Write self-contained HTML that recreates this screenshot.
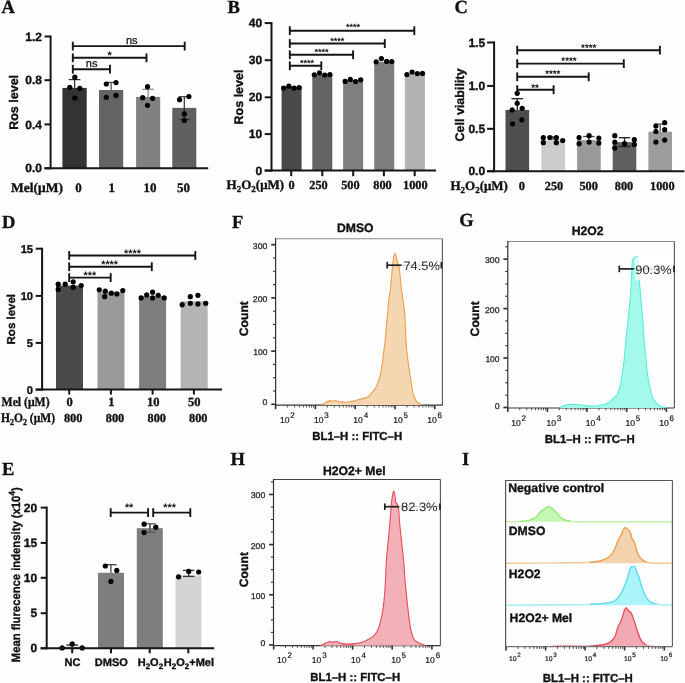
<!DOCTYPE html><html><head><meta charset="utf-8"><style>html,body{margin:0;padding:0;background:#fff;}svg{display:block;will-change:transform;text-rendering:geometricPrecision;filter:blur(0.35px);}</style></head><body>
<svg width="685" height="683" viewBox="0 0 685 683">
<rect x="0" y="0" width="685" height="683" fill="#fefefe"/>
<text x="1.60" y="12.60" font-family='"Liberation Serif", serif' font-size="18.5" font-weight="bold" text-anchor="start" fill="#111" stroke="#111" stroke-width="0.35" >A</text>
<text x="227.50" y="12.60" font-family='"Liberation Serif", serif' font-size="18.5" font-weight="bold" text-anchor="start" fill="#111" stroke="#111" stroke-width="0.35" >B</text>
<text x="454.50" y="12.60" font-family='"Liberation Serif", serif' font-size="18.5" font-weight="bold" text-anchor="start" fill="#111" stroke="#111" stroke-width="0.35" >C</text>
<text x="2.00" y="228.00" font-family='"Liberation Serif", serif' font-size="18.5" font-weight="bold" text-anchor="start" fill="#111" stroke="#111" stroke-width="0.35" >D</text>
<text x="232.00" y="228.00" font-family='"Liberation Serif", serif' font-size="18.5" font-weight="bold" text-anchor="start" fill="#111" stroke="#111" stroke-width="0.35" >F</text>
<text x="459.20" y="226.00" font-family='"Liberation Serif", serif' font-size="18.5" font-weight="bold" text-anchor="start" fill="#111" stroke="#111" stroke-width="0.35" >G</text>
<text x="2.00" y="475.00" font-family='"Liberation Serif", serif' font-size="18.5" font-weight="bold" text-anchor="start" fill="#111" stroke="#111" stroke-width="0.35" >E</text>
<text x="230.50" y="465.00" font-family='"Liberation Serif", serif' font-size="18.5" font-weight="bold" text-anchor="start" fill="#111" stroke="#111" stroke-width="0.35" >H</text>
<text x="462.00" y="465.00" font-family='"Liberation Serif", serif' font-size="18.5" font-weight="bold" text-anchor="start" fill="#111" stroke="#111" stroke-width="0.35" >I</text>
<rect x="62.40" y="87.90" width="24.30" height="80.40" fill="#333333" />
<rect x="99.00" y="90.00" width="24.20" height="78.30" fill="#626362" />
<rect x="136.10" y="96.90" width="24.10" height="71.40" fill="#808180" />
<rect x="172.30" y="107.90" width="24.00" height="60.40" fill="#5f605f" />
<line x1="74.60" y1="79.60" x2="74.60" y2="87.90" stroke="#2a2a2a" stroke-width="1.2" />
<line x1="68.80" y1="79.60" x2="80.40" y2="79.60" stroke="#2a2a2a" stroke-width="1.2" />
<line x1="111.10" y1="82.40" x2="111.10" y2="90.00" stroke="#4a4a4a" stroke-width="1.2" />
<line x1="105.30" y1="82.40" x2="116.90" y2="82.40" stroke="#4a4a4a" stroke-width="1.2" />
<line x1="148.10" y1="89.30" x2="148.10" y2="96.90" stroke="#7a7a7a" stroke-width="1.1" />
<line x1="142.30" y1="89.30" x2="153.90" y2="89.30" stroke="#7a7a7a" stroke-width="1.1" />
<line x1="184.30" y1="96.70" x2="184.30" y2="119.60" stroke="#333" stroke-width="1.2" />
<line x1="178.50" y1="96.70" x2="190.10" y2="96.70" stroke="#333" stroke-width="1.2" />
<line x1="178.50" y1="119.60" x2="190.10" y2="119.60" stroke="#333" stroke-width="1.2" />
<circle cx="74.80" cy="77.20" r="2.6" fill="#000"/>
<circle cx="69.80" cy="87.30" r="2.6" fill="#000"/>
<circle cx="79.80" cy="88.30" r="2.6" fill="#000"/>
<circle cx="74.80" cy="97.90" r="2.6" fill="#000"/>
<circle cx="106.30" cy="84.00" r="2.6" fill="#000"/>
<circle cx="116.00" cy="82.60" r="2.6" fill="#000"/>
<circle cx="106.30" cy="97.30" r="2.6" fill="#000"/>
<circle cx="116.00" cy="95.40" r="2.6" fill="#000"/>
<circle cx="147.50" cy="86.70" r="2.6" fill="#000"/>
<circle cx="142.70" cy="97.70" r="2.6" fill="#000"/>
<circle cx="152.60" cy="98.30" r="2.6" fill="#000"/>
<circle cx="147.50" cy="105.30" r="2.6" fill="#000"/>
<circle cx="179.60" cy="99.70" r="2.6" fill="#000"/>
<circle cx="188.90" cy="96.50" r="2.6" fill="#000"/>
<circle cx="184.30" cy="113.90" r="2.6" fill="#000"/>
<circle cx="184.30" cy="120.40" r="2.6" fill="#000"/>
<line x1="50.60" y1="35.50" x2="50.60" y2="169.30" stroke="#151515" stroke-width="2.0" />
<line x1="44.50" y1="168.30" x2="50.60" y2="168.30" stroke="#151515" stroke-width="2.0" />
<text x="41.90" y="172.40" font-family='"Liberation Sans", sans-serif' font-size="12" font-weight="bold" text-anchor="end" fill="#111" stroke="#111" stroke-width="0.35" >0.0</text>
<line x1="44.50" y1="124.40" x2="50.60" y2="124.40" stroke="#151515" stroke-width="2.0" />
<text x="41.90" y="128.50" font-family='"Liberation Sans", sans-serif' font-size="12" font-weight="bold" text-anchor="end" fill="#111" stroke="#111" stroke-width="0.35" >0.4</text>
<line x1="44.50" y1="80.20" x2="50.60" y2="80.20" stroke="#151515" stroke-width="2.0" />
<text x="41.90" y="84.30" font-family='"Liberation Sans", sans-serif' font-size="12" font-weight="bold" text-anchor="end" fill="#111" stroke="#111" stroke-width="0.35" >0.8</text>
<line x1="44.50" y1="36.50" x2="50.60" y2="36.50" stroke="#151515" stroke-width="2.0" />
<text x="41.90" y="40.60" font-family='"Liberation Sans", sans-serif' font-size="12" font-weight="bold" text-anchor="end" fill="#111" stroke="#111" stroke-width="0.35" >1.2</text>
<line x1="44.50" y1="168.30" x2="208.20" y2="168.30" stroke="#151515" stroke-width="2.0" />
<line x1="72.80" y1="46.10" x2="184.70" y2="46.10" stroke="#151515" stroke-width="1.9" />
<line x1="72.80" y1="41.70" x2="72.80" y2="50.50" stroke="#151515" stroke-width="1.9" />
<line x1="184.70" y1="41.70" x2="184.70" y2="50.50" stroke="#151515" stroke-width="1.9" />
<text x="131.70" y="43.70" font-family='"Liberation Sans", sans-serif' font-size="11" font-weight="normal" text-anchor="middle" fill="#111" stroke="#111" stroke-width="0.25" >ns</text>
<line x1="72.80" y1="57.80" x2="146.50" y2="57.80" stroke="#151515" stroke-width="1.9" />
<line x1="72.80" y1="53.40" x2="72.80" y2="62.20" stroke="#151515" stroke-width="1.9" />
<line x1="146.50" y1="53.40" x2="146.50" y2="62.20" stroke="#151515" stroke-width="1.9" />
<text x="109.60" y="59.40" font-family='"Liberation Sans", sans-serif' font-size="11" font-weight="bold" text-anchor="middle" fill="#111" >*</text>
<line x1="72.80" y1="69.20" x2="110.00" y2="69.20" stroke="#151515" stroke-width="1.9" />
<line x1="72.80" y1="64.80" x2="72.80" y2="73.60" stroke="#151515" stroke-width="1.9" />
<line x1="110.00" y1="64.80" x2="110.00" y2="73.60" stroke="#151515" stroke-width="1.9" />
<text x="91.60" y="66.80" font-family='"Liberation Sans", sans-serif' font-size="11" font-weight="normal" text-anchor="middle" fill="#111" stroke="#111" stroke-width="0.25" >ns</text>
<text transform="translate(18.30,102.40) rotate(-90)" font-family='"Liberation Sans", sans-serif' font-size="12.5" font-weight="bold" text-anchor="middle" fill="#111" stroke="#111" stroke-width="0.35" >Ros level</text>
<text x="11.00" y="191.90" font-family='"Liberation Serif", serif' font-size="13.5" font-weight="bold" text-anchor="start" fill="#111" stroke="#111" stroke-width="0.35" >Mel(μM)</text>
<text x="78.40" y="191.90" font-family='"Liberation Serif", serif' font-size="13" font-weight="bold" text-anchor="middle" fill="#111" stroke="#111" stroke-width="0.35" >0</text>
<text x="111.70" y="191.90" font-family='"Liberation Serif", serif' font-size="13" font-weight="bold" text-anchor="middle" fill="#111" stroke="#111" stroke-width="0.35" >1</text>
<text x="149.90" y="191.90" font-family='"Liberation Serif", serif' font-size="13" font-weight="bold" text-anchor="middle" fill="#111" stroke="#111" stroke-width="0.35" >10</text>
<text x="183.50" y="191.90" font-family='"Liberation Serif", serif' font-size="13" font-weight="bold" text-anchor="middle" fill="#111" stroke="#111" stroke-width="0.35" >50</text>
<rect x="281.60" y="86.70" width="20.00" height="83.90" fill="#494949" />
<rect x="312.30" y="74.60" width="20.00" height="96.00" fill="#636463" />
<rect x="343.10" y="80.20" width="20.00" height="90.40" fill="#7e7f7e" />
<rect x="374.20" y="61.80" width="20.00" height="108.80" fill="#7c7d7c" />
<rect x="404.90" y="74.20" width="20.00" height="96.40" fill="#b1b2b1" />
<circle cx="283.60" cy="88.00" r="2.6" fill="#000"/>
<circle cx="288.80" cy="86.20" r="2.6" fill="#000"/>
<circle cx="294.00" cy="88.20" r="2.6" fill="#000"/>
<circle cx="299.20" cy="87.60" r="2.6" fill="#000"/>
<circle cx="314.30" cy="74.80" r="2.6" fill="#000"/>
<circle cx="319.50" cy="72.80" r="2.6" fill="#000"/>
<circle cx="324.70" cy="75.00" r="2.6" fill="#000"/>
<circle cx="329.90" cy="74.60" r="2.6" fill="#000"/>
<circle cx="345.10" cy="81.40" r="2.6" fill="#000"/>
<circle cx="350.30" cy="79.40" r="2.6" fill="#000"/>
<circle cx="355.50" cy="81.60" r="2.6" fill="#000"/>
<circle cx="360.70" cy="79.80" r="2.6" fill="#000"/>
<circle cx="376.20" cy="61.80" r="2.6" fill="#000"/>
<circle cx="381.40" cy="58.60" r="2.6" fill="#000"/>
<circle cx="386.60" cy="61.40" r="2.6" fill="#000"/>
<circle cx="391.80" cy="61.60" r="2.6" fill="#000"/>
<circle cx="406.90" cy="74.60" r="2.6" fill="#000"/>
<circle cx="412.10" cy="72.00" r="2.6" fill="#000"/>
<circle cx="417.30" cy="73.60" r="2.6" fill="#000"/>
<circle cx="422.50" cy="73.40" r="2.6" fill="#000"/>
<line x1="271.50" y1="22.10" x2="271.50" y2="171.60" stroke="#151515" stroke-width="2.0" />
<line x1="264.70" y1="170.60" x2="271.50" y2="170.60" stroke="#151515" stroke-width="2.0" />
<text x="262.10" y="174.70" font-family='"Liberation Sans", sans-serif' font-size="12" font-weight="bold" text-anchor="end" fill="#111" stroke="#111" stroke-width="0.35" >0</text>
<line x1="264.70" y1="134.10" x2="271.50" y2="134.10" stroke="#151515" stroke-width="2.0" />
<text x="262.10" y="138.20" font-family='"Liberation Sans", sans-serif' font-size="12" font-weight="bold" text-anchor="end" fill="#111" stroke="#111" stroke-width="0.35" >10</text>
<line x1="264.70" y1="97.30" x2="271.50" y2="97.30" stroke="#151515" stroke-width="2.0" />
<text x="262.10" y="101.40" font-family='"Liberation Sans", sans-serif' font-size="12" font-weight="bold" text-anchor="end" fill="#111" stroke="#111" stroke-width="0.35" >20</text>
<line x1="264.70" y1="60.20" x2="271.50" y2="60.20" stroke="#151515" stroke-width="2.0" />
<text x="262.10" y="64.30" font-family='"Liberation Sans", sans-serif' font-size="12" font-weight="bold" text-anchor="end" fill="#111" stroke="#111" stroke-width="0.35" >30</text>
<line x1="264.70" y1="23.10" x2="271.50" y2="23.10" stroke="#151515" stroke-width="2.0" />
<text x="262.10" y="27.20" font-family='"Liberation Sans", sans-serif' font-size="12" font-weight="bold" text-anchor="end" fill="#111" stroke="#111" stroke-width="0.35" >40</text>
<line x1="264.70" y1="170.60" x2="436.00" y2="170.60" stroke="#151515" stroke-width="2.0" />
<line x1="291.20" y1="170.60" x2="291.20" y2="176.20" stroke="#151515" stroke-width="2.0" />
<line x1="322.30" y1="170.60" x2="322.30" y2="176.20" stroke="#151515" stroke-width="2.0" />
<line x1="353.20" y1="170.60" x2="353.20" y2="176.20" stroke="#151515" stroke-width="2.0" />
<line x1="383.90" y1="170.60" x2="383.90" y2="176.20" stroke="#151515" stroke-width="2.0" />
<line x1="414.70" y1="170.60" x2="414.70" y2="176.20" stroke="#151515" stroke-width="2.0" />
<line x1="289.80" y1="30.70" x2="414.30" y2="30.70" stroke="#151515" stroke-width="1.9" />
<line x1="289.80" y1="26.30" x2="289.80" y2="35.10" stroke="#151515" stroke-width="1.9" />
<line x1="414.30" y1="26.30" x2="414.30" y2="35.10" stroke="#151515" stroke-width="1.9" />
<text x="353.00" y="29.50" font-family='"Liberation Sans", sans-serif' font-size="9" font-weight="bold" text-anchor="middle" fill="#111" >****</text>
<line x1="289.80" y1="43.50" x2="384.80" y2="43.50" stroke="#151515" stroke-width="1.9" />
<line x1="289.80" y1="39.10" x2="289.80" y2="47.90" stroke="#151515" stroke-width="1.9" />
<line x1="384.80" y1="39.10" x2="384.80" y2="47.90" stroke="#151515" stroke-width="1.9" />
<text x="337.20" y="43.50" font-family='"Liberation Sans", sans-serif' font-size="9" font-weight="bold" text-anchor="middle" fill="#111" >****</text>
<line x1="289.80" y1="54.80" x2="353.10" y2="54.80" stroke="#151515" stroke-width="1.9" />
<line x1="289.80" y1="50.40" x2="289.80" y2="59.20" stroke="#151515" stroke-width="1.9" />
<line x1="353.10" y1="50.40" x2="353.10" y2="59.20" stroke="#151515" stroke-width="1.9" />
<text x="321.50" y="54.80" font-family='"Liberation Sans", sans-serif' font-size="9" font-weight="bold" text-anchor="middle" fill="#111" >****</text>
<line x1="289.80" y1="65.80" x2="321.30" y2="65.80" stroke="#151515" stroke-width="1.9" />
<line x1="289.80" y1="61.40" x2="289.80" y2="70.20" stroke="#151515" stroke-width="1.9" />
<line x1="321.30" y1="61.40" x2="321.30" y2="70.20" stroke="#151515" stroke-width="1.9" />
<text x="307.00" y="65.80" font-family='"Liberation Sans", sans-serif' font-size="9" font-weight="bold" text-anchor="middle" fill="#111" >****</text>
<text transform="translate(242.80,97.00) rotate(-90)" font-family='"Liberation Sans", sans-serif' font-size="12.5" font-weight="bold" text-anchor="middle" fill="#111" stroke="#111" stroke-width="0.35" >Ros level</text>
<text x="226.6" y="188.9" font-family='"Liberation Serif", serif' font-size="13" font-weight="bold" fill="#111" stroke="#111" stroke-width="0.35">H<tspan font-size="9" dy="3">2</tspan><tspan dy="-3">O</tspan><tspan font-size="9" dy="3">2</tspan><tspan dy="-3">(μM)</tspan></text>
<text x="291.60" y="188.90" font-family='"Liberation Serif", serif' font-size="12.3" font-weight="bold" text-anchor="middle" fill="#111" stroke="#111" stroke-width="0.35" >0</text>
<text x="318.50" y="188.90" font-family='"Liberation Serif", serif' font-size="12.3" font-weight="bold" text-anchor="middle" fill="#111" stroke="#111" stroke-width="0.35" >250</text>
<text x="350.40" y="188.90" font-family='"Liberation Serif", serif' font-size="12.3" font-weight="bold" text-anchor="middle" fill="#111" stroke="#111" stroke-width="0.35" >500</text>
<text x="382.50" y="188.90" font-family='"Liberation Serif", serif' font-size="12.3" font-weight="bold" text-anchor="middle" fill="#111" stroke="#111" stroke-width="0.35" >800</text>
<text x="415.30" y="188.90" font-family='"Liberation Serif", serif' font-size="12.3" font-weight="bold" text-anchor="middle" fill="#111" stroke="#111" stroke-width="0.35" >1000</text>
<rect x="505.50" y="109.90" width="23.60" height="61.30" fill="#4e4e4e" />
<rect x="541.40" y="140.10" width="23.60" height="31.10" fill="#cccccc" />
<rect x="577.10" y="140.10" width="23.60" height="31.10" fill="#999999" />
<rect x="612.70" y="142.10" width="23.60" height="29.10" fill="#5f605f" />
<rect x="648.40" y="131.70" width="23.60" height="39.50" fill="#9c9c9c" />
<line x1="517.30" y1="98.70" x2="517.30" y2="109.90" stroke="#222" stroke-width="1.3" />
<line x1="511.50" y1="98.70" x2="523.10" y2="98.70" stroke="#222" stroke-width="1.3" />
<line x1="553.20" y1="137.00" x2="553.20" y2="140.10" stroke="#444" stroke-width="1.3" />
<line x1="547.40" y1="137.00" x2="559.00" y2="137.00" stroke="#444" stroke-width="1.3" />
<line x1="588.90" y1="136.50" x2="588.90" y2="140.10" stroke="#444" stroke-width="1.3" />
<line x1="583.10" y1="136.50" x2="594.70" y2="136.50" stroke="#444" stroke-width="1.3" />
<line x1="624.50" y1="137.70" x2="624.50" y2="146.50" stroke="#222" stroke-width="1.3" />
<line x1="618.70" y1="137.70" x2="630.30" y2="137.70" stroke="#222" stroke-width="1.3" />
<line x1="618.70" y1="146.50" x2="630.30" y2="146.50" stroke="#222" stroke-width="1.3" />
<line x1="660.20" y1="124.10" x2="660.20" y2="131.70" stroke="#555" stroke-width="1.3" />
<line x1="654.40" y1="124.10" x2="666.00" y2="124.10" stroke="#555" stroke-width="1.3" />
<circle cx="517.20" cy="93.30" r="2.6" fill="#000"/>
<circle cx="517.20" cy="103.30" r="2.6" fill="#000"/>
<circle cx="512.20" cy="109.90" r="2.6" fill="#000"/>
<circle cx="522.20" cy="108.30" r="2.6" fill="#000"/>
<circle cx="521.80" cy="119.80" r="2.6" fill="#000"/>
<circle cx="512.60" cy="123.80" r="2.6" fill="#000"/>
<circle cx="543.30" cy="137.70" r="2.6" fill="#000"/>
<circle cx="549.90" cy="137.50" r="2.6" fill="#000"/>
<circle cx="556.30" cy="137.70" r="2.6" fill="#000"/>
<circle cx="562.70" cy="140.50" r="2.6" fill="#000"/>
<circle cx="543.30" cy="142.70" r="2.6" fill="#000"/>
<circle cx="556.30" cy="142.70" r="2.6" fill="#000"/>
<circle cx="579.10" cy="137.50" r="2.6" fill="#000"/>
<circle cx="589.10" cy="135.70" r="2.6" fill="#000"/>
<circle cx="598.80" cy="138.10" r="2.6" fill="#000"/>
<circle cx="579.10" cy="143.70" r="2.6" fill="#000"/>
<circle cx="589.10" cy="142.10" r="2.6" fill="#000"/>
<circle cx="598.80" cy="143.10" r="2.6" fill="#000"/>
<circle cx="614.80" cy="135.70" r="2.6" fill="#000"/>
<circle cx="614.80" cy="142.10" r="2.6" fill="#000"/>
<circle cx="614.80" cy="148.10" r="2.6" fill="#000"/>
<circle cx="624.60" cy="143.70" r="2.6" fill="#000"/>
<circle cx="634.30" cy="139.70" r="2.6" fill="#000"/>
<circle cx="634.30" cy="144.50" r="2.6" fill="#000"/>
<circle cx="655.90" cy="126.10" r="2.6" fill="#000"/>
<circle cx="664.70" cy="122.70" r="2.6" fill="#000"/>
<circle cx="655.90" cy="131.50" r="2.6" fill="#000"/>
<circle cx="664.70" cy="129.70" r="2.6" fill="#000"/>
<circle cx="655.90" cy="142.10" r="2.6" fill="#000"/>
<circle cx="664.70" cy="140.10" r="2.6" fill="#000"/>
<line x1="494.10" y1="41.50" x2="494.10" y2="172.20" stroke="#151515" stroke-width="2.0" />
<line x1="487.10" y1="171.20" x2="494.10" y2="171.20" stroke="#151515" stroke-width="2.0" />
<text x="485.10" y="175.30" font-family='"Liberation Sans", sans-serif' font-size="12" font-weight="bold" text-anchor="end" fill="#111" stroke="#111" stroke-width="0.35" >0.0</text>
<line x1="487.10" y1="128.80" x2="494.10" y2="128.80" stroke="#151515" stroke-width="2.0" />
<text x="485.10" y="132.90" font-family='"Liberation Sans", sans-serif' font-size="12" font-weight="bold" text-anchor="end" fill="#111" stroke="#111" stroke-width="0.35" >0.5</text>
<line x1="487.10" y1="85.90" x2="494.10" y2="85.90" stroke="#151515" stroke-width="2.0" />
<text x="485.10" y="90.00" font-family='"Liberation Sans", sans-serif' font-size="12" font-weight="bold" text-anchor="end" fill="#111" stroke="#111" stroke-width="0.35" >1.0</text>
<line x1="487.10" y1="42.50" x2="494.10" y2="42.50" stroke="#151515" stroke-width="2.0" />
<text x="485.10" y="46.60" font-family='"Liberation Sans", sans-serif' font-size="12" font-weight="bold" text-anchor="end" fill="#111" stroke="#111" stroke-width="0.35" >1.5</text>
<line x1="487.10" y1="171.20" x2="684.40" y2="171.20" stroke="#151515" stroke-width="2.0" />
<line x1="517.20" y1="50.20" x2="659.90" y2="50.20" stroke="#151515" stroke-width="1.9" />
<line x1="517.20" y1="45.80" x2="517.20" y2="54.60" stroke="#151515" stroke-width="1.9" />
<line x1="659.90" y1="45.80" x2="659.90" y2="54.60" stroke="#151515" stroke-width="1.9" />
<text x="588.70" y="50.60" font-family='"Liberation Sans", sans-serif' font-size="9.8" font-weight="bold" text-anchor="middle" fill="#111" >****</text>
<line x1="517.20" y1="63.60" x2="623.80" y2="63.60" stroke="#151515" stroke-width="1.9" />
<line x1="517.20" y1="59.20" x2="517.20" y2="68.00" stroke="#151515" stroke-width="1.9" />
<line x1="623.80" y1="59.20" x2="623.80" y2="68.00" stroke="#151515" stroke-width="1.9" />
<text x="569.00" y="63.60" font-family='"Liberation Sans", sans-serif' font-size="9.8" font-weight="bold" text-anchor="middle" fill="#111" >****</text>
<line x1="517.20" y1="76.80" x2="588.70" y2="76.80" stroke="#151515" stroke-width="1.9" />
<line x1="517.20" y1="72.40" x2="517.20" y2="81.20" stroke="#151515" stroke-width="1.9" />
<line x1="588.70" y1="72.40" x2="588.70" y2="81.20" stroke="#151515" stroke-width="1.9" />
<text x="552.80" y="76.80" font-family='"Liberation Sans", sans-serif' font-size="9.8" font-weight="bold" text-anchor="middle" fill="#111" >****</text>
<line x1="517.20" y1="89.70" x2="553.60" y2="89.70" stroke="#151515" stroke-width="1.9" />
<line x1="517.20" y1="85.30" x2="517.20" y2="94.10" stroke="#151515" stroke-width="1.9" />
<line x1="553.60" y1="85.30" x2="553.60" y2="94.10" stroke="#151515" stroke-width="1.9" />
<text x="535.00" y="90.90" font-family='"Liberation Sans", sans-serif' font-size="9.8" font-weight="bold" text-anchor="middle" fill="#111" >**</text>
<text transform="translate(463.90,105.00) rotate(-90)" font-family='"Liberation Sans", sans-serif' font-size="12.5" font-weight="bold" text-anchor="middle" fill="#111" stroke="#111" stroke-width="0.35" >Cell viability</text>
<text x="450.4" y="190.4" font-family='"Liberation Serif", serif' font-size="13" font-weight="bold" fill="#111" stroke="#111" stroke-width="0.35">H<tspan font-size="9" dy="3">2</tspan><tspan dy="-3">O</tspan><tspan font-size="9" dy="3">2</tspan><tspan dy="-3">(μM)</tspan></text>
<text x="521.80" y="190.40" font-family='"Liberation Serif", serif' font-size="12.3" font-weight="bold" text-anchor="middle" fill="#111" stroke="#111" stroke-width="0.35" >0</text>
<text x="554.00" y="190.40" font-family='"Liberation Serif", serif' font-size="12.3" font-weight="bold" text-anchor="middle" fill="#111" stroke="#111" stroke-width="0.35" >250</text>
<text x="588.70" y="190.40" font-family='"Liberation Serif", serif' font-size="12.3" font-weight="bold" text-anchor="middle" fill="#111" stroke="#111" stroke-width="0.35" >500</text>
<text x="624.00" y="190.40" font-family='"Liberation Serif", serif' font-size="12.3" font-weight="bold" text-anchor="middle" fill="#111" stroke="#111" stroke-width="0.35" >800</text>
<text x="662.30" y="190.40" font-family='"Liberation Serif", serif' font-size="12.3" font-weight="bold" text-anchor="middle" fill="#111" stroke="#111" stroke-width="0.35" >1000</text>
<rect x="56.00" y="285.60" width="27.00" height="104.00" fill="#4a4a4a" />
<rect x="97.50" y="292.20" width="27.00" height="97.40" fill="#9a9a9a" />
<rect x="139.10" y="296.30" width="27.00" height="93.30" fill="#7d7e7d" />
<rect x="180.70" y="301.30" width="27.00" height="88.30" fill="#b3b4b3" />
<circle cx="58.20" cy="284.20" r="2.6" fill="#000"/>
<circle cx="65.20" cy="284.20" r="2.6" fill="#000"/>
<circle cx="73.20" cy="281.80" r="2.6" fill="#000"/>
<circle cx="81.20" cy="285.60" r="2.6" fill="#000"/>
<circle cx="58.20" cy="289.60" r="2.6" fill="#000"/>
<circle cx="73.20" cy="287.20" r="2.6" fill="#000"/>
<circle cx="99.30" cy="289.80" r="2.6" fill="#000"/>
<circle cx="105.30" cy="291.20" r="2.6" fill="#000"/>
<circle cx="111.30" cy="293.20" r="2.6" fill="#000"/>
<circle cx="116.90" cy="293.90" r="2.6" fill="#000"/>
<circle cx="122.80" cy="290.60" r="2.6" fill="#000"/>
<circle cx="104.70" cy="296.70" r="2.6" fill="#000"/>
<circle cx="141.10" cy="297.90" r="2.6" fill="#000"/>
<circle cx="146.70" cy="294.90" r="2.6" fill="#000"/>
<circle cx="152.60" cy="292.20" r="2.6" fill="#000"/>
<circle cx="158.20" cy="295.30" r="2.6" fill="#000"/>
<circle cx="164.20" cy="297.90" r="2.6" fill="#000"/>
<circle cx="152.60" cy="297.90" r="2.6" fill="#000"/>
<circle cx="182.20" cy="304.70" r="2.6" fill="#000"/>
<circle cx="190.30" cy="296.70" r="2.6" fill="#000"/>
<circle cx="197.90" cy="295.30" r="2.6" fill="#000"/>
<circle cx="190.30" cy="303.30" r="2.6" fill="#000"/>
<circle cx="197.90" cy="303.90" r="2.6" fill="#000"/>
<circle cx="205.70" cy="303.30" r="2.6" fill="#000"/>
<line x1="42.10" y1="247.70" x2="42.10" y2="390.60" stroke="#151515" stroke-width="2.0" />
<line x1="35.70" y1="389.60" x2="42.10" y2="389.60" stroke="#151515" stroke-width="2.0" />
<text x="33.10" y="393.70" font-family='"Liberation Sans", sans-serif' font-size="11.2" font-weight="bold" text-anchor="end" fill="#111" stroke="#111" stroke-width="0.35" >0</text>
<line x1="35.70" y1="342.90" x2="42.10" y2="342.90" stroke="#151515" stroke-width="2.0" />
<text x="33.10" y="347.00" font-family='"Liberation Sans", sans-serif' font-size="11.2" font-weight="bold" text-anchor="end" fill="#111" stroke="#111" stroke-width="0.35" >5</text>
<line x1="35.70" y1="295.90" x2="42.10" y2="295.90" stroke="#151515" stroke-width="2.0" />
<text x="33.10" y="300.00" font-family='"Liberation Sans", sans-serif' font-size="11.2" font-weight="bold" text-anchor="end" fill="#111" stroke="#111" stroke-width="0.35" >10</text>
<line x1="35.70" y1="248.70" x2="42.10" y2="248.70" stroke="#151515" stroke-width="2.0" />
<text x="33.10" y="252.80" font-family='"Liberation Sans", sans-serif' font-size="11.2" font-weight="bold" text-anchor="end" fill="#111" stroke="#111" stroke-width="0.35" >15</text>
<line x1="35.70" y1="389.60" x2="222.00" y2="389.60" stroke="#151515" stroke-width="2.0" />
<line x1="69.20" y1="389.60" x2="69.20" y2="394.60" stroke="#151515" stroke-width="2.0" />
<line x1="110.90" y1="389.60" x2="110.90" y2="394.60" stroke="#151515" stroke-width="2.0" />
<line x1="152.60" y1="389.60" x2="152.60" y2="394.60" stroke="#151515" stroke-width="2.0" />
<line x1="193.90" y1="389.60" x2="193.90" y2="394.60" stroke="#151515" stroke-width="2.0" />
<line x1="69.20" y1="255.50" x2="195.30" y2="255.50" stroke="#151515" stroke-width="1.9" />
<line x1="69.20" y1="251.10" x2="69.20" y2="259.90" stroke="#151515" stroke-width="1.9" />
<line x1="195.30" y1="251.10" x2="195.30" y2="259.90" stroke="#151515" stroke-width="1.9" />
<text x="132.50" y="256.50" font-family='"Liberation Sans", sans-serif' font-size="10.8" font-weight="bold" text-anchor="middle" fill="#111" >****</text>
<line x1="69.20" y1="266.70" x2="151.80" y2="266.70" stroke="#151515" stroke-width="1.9" />
<line x1="69.20" y1="262.30" x2="69.20" y2="271.10" stroke="#151515" stroke-width="1.9" />
<line x1="151.80" y1="262.30" x2="151.80" y2="271.10" stroke="#151515" stroke-width="1.9" />
<text x="109.60" y="267.70" font-family='"Liberation Sans", sans-serif' font-size="10.8" font-weight="bold" text-anchor="middle" fill="#111" >****</text>
<line x1="69.20" y1="277.60" x2="110.70" y2="277.60" stroke="#151515" stroke-width="1.9" />
<line x1="69.20" y1="273.20" x2="69.20" y2="282.00" stroke="#151515" stroke-width="1.9" />
<line x1="110.70" y1="273.20" x2="110.70" y2="282.00" stroke="#151515" stroke-width="1.9" />
<text x="89.90" y="278.60" font-family='"Liberation Sans", sans-serif' font-size="10.8" font-weight="bold" text-anchor="middle" fill="#111" >***</text>
<text transform="translate(14.80,319.20) rotate(-90)" font-family='"Liberation Sans", sans-serif' font-size="11.5" font-weight="bold" text-anchor="middle" fill="#111" stroke="#111" stroke-width="0.35" >Ros level</text>
<text x="1.60" y="406.30" font-family='"Liberation Serif", serif' font-size="13" font-weight="bold" text-anchor="start" fill="#111" stroke="#111" stroke-width="0.35" textLength="48" lengthAdjust="spacingAndGlyphs">Mel (μM)</text>
<text x="1.0" y="421.9" font-family='"Liberation Serif", serif' font-size="13" font-weight="bold" fill="#111" stroke="#111" stroke-width="0.35" textLength="54" lengthAdjust="spacingAndGlyphs">H<tspan font-size="9" dy="3">2</tspan><tspan dy="-3">O</tspan><tspan font-size="9" dy="3">2</tspan><tspan dy="-3"> (μM)</tspan></text>
<text x="69.60" y="406.30" font-family='"Liberation Serif", serif' font-size="12.5" font-weight="bold" text-anchor="middle" fill="#111" stroke="#111" stroke-width="0.35" >0</text>
<text x="111.30" y="406.30" font-family='"Liberation Serif", serif' font-size="12.5" font-weight="bold" text-anchor="middle" fill="#111" stroke="#111" stroke-width="0.35" >1</text>
<text x="153.20" y="406.30" font-family='"Liberation Serif", serif' font-size="12.5" font-weight="bold" text-anchor="middle" fill="#111" stroke="#111" stroke-width="0.35" >10</text>
<text x="194.30" y="406.30" font-family='"Liberation Serif", serif' font-size="12.5" font-weight="bold" text-anchor="middle" fill="#111" stroke="#111" stroke-width="0.35" >50</text>
<text x="73.20" y="421.90" font-family='"Liberation Serif", serif' font-size="12.3" font-weight="bold" text-anchor="middle" fill="#111" stroke="#111" stroke-width="0.35" >800</text>
<text x="115.00" y="421.90" font-family='"Liberation Serif", serif' font-size="12.3" font-weight="bold" text-anchor="middle" fill="#111" stroke="#111" stroke-width="0.35" >800</text>
<text x="156.80" y="421.90" font-family='"Liberation Serif", serif' font-size="12.3" font-weight="bold" text-anchor="middle" fill="#111" stroke="#111" stroke-width="0.35" >800</text>
<text x="198.30" y="421.90" font-family='"Liberation Serif", serif' font-size="12.3" font-weight="bold" text-anchor="middle" fill="#111" stroke="#111" stroke-width="0.35" >800</text>
<rect x="59.20" y="646.80" width="26.00" height="1.50" fill="#7d7e7d" />
<rect x="98.00" y="572.80" width="26.00" height="75.50" fill="#7d7e7d" />
<rect x="136.80" y="528.20" width="26.00" height="120.10" fill="#7d7e7d" />
<rect x="175.50" y="575.40" width="26.00" height="72.90" fill="#d4d4d4" />
<line x1="72.20" y1="645.00" x2="72.20" y2="647.00" stroke="#222" stroke-width="1.3" />
<line x1="66.40" y1="645.00" x2="78.00" y2="645.00" stroke="#222" stroke-width="1.3" />
<line x1="110.90" y1="564.70" x2="110.90" y2="572.80" stroke="#444" stroke-width="1.3" />
<line x1="105.10" y1="564.70" x2="116.70" y2="564.70" stroke="#444" stroke-width="1.3" />
<line x1="149.90" y1="523.80" x2="149.90" y2="528.20" stroke="#555" stroke-width="1.3" />
<line x1="144.10" y1="523.80" x2="155.70" y2="523.80" stroke="#555" stroke-width="1.3" />
<line x1="149.90" y1="523.80" x2="149.90" y2="532.20" stroke="#555" stroke-width="1.2" />
<line x1="144.10" y1="532.20" x2="155.70" y2="532.20" stroke="#555" stroke-width="1.2" />
<line x1="188.70" y1="570.40" x2="188.70" y2="576.40" stroke="#333" stroke-width="1.3" />
<line x1="182.90" y1="570.40" x2="194.50" y2="570.40" stroke="#333" stroke-width="1.3" />
<line x1="182.90" y1="576.40" x2="194.50" y2="576.40" stroke="#333" stroke-width="1.3" />
<circle cx="62.20" cy="647.90" r="2.6" fill="#000"/>
<circle cx="72.20" cy="643.90" r="2.6" fill="#000"/>
<circle cx="82.20" cy="647.90" r="2.6" fill="#000"/>
<circle cx="105.30" cy="566.00" r="2.6" fill="#000"/>
<circle cx="116.80" cy="570.40" r="2.6" fill="#000"/>
<circle cx="110.90" cy="581.40" r="2.6" fill="#000"/>
<circle cx="144.10" cy="524.20" r="2.6" fill="#000"/>
<circle cx="155.80" cy="527.20" r="2.6" fill="#000"/>
<circle cx="144.10" cy="532.60" r="2.6" fill="#000"/>
<circle cx="178.60" cy="576.80" r="2.6" fill="#000"/>
<circle cx="188.70" cy="571.40" r="2.6" fill="#000"/>
<circle cx="198.70" cy="572.00" r="2.6" fill="#000"/>
<line x1="46.70" y1="506.60" x2="46.70" y2="649.30" stroke="#151515" stroke-width="2.0" />
<line x1="40.70" y1="648.30" x2="46.70" y2="648.30" stroke="#151515" stroke-width="2.0" />
<text x="37.10" y="652.40" font-family='"Liberation Sans", sans-serif' font-size="12" font-weight="bold" text-anchor="end" fill="#111" stroke="#111" stroke-width="0.35" >0</text>
<line x1="40.70" y1="613.20" x2="46.70" y2="613.20" stroke="#151515" stroke-width="2.0" />
<text x="37.10" y="617.30" font-family='"Liberation Sans", sans-serif' font-size="12" font-weight="bold" text-anchor="end" fill="#111" stroke="#111" stroke-width="0.35" >5</text>
<line x1="40.70" y1="577.80" x2="46.70" y2="577.80" stroke="#151515" stroke-width="2.0" />
<text x="37.10" y="581.90" font-family='"Liberation Sans", sans-serif' font-size="12" font-weight="bold" text-anchor="end" fill="#111" stroke="#111" stroke-width="0.35" >10</text>
<line x1="40.70" y1="542.90" x2="46.70" y2="542.90" stroke="#151515" stroke-width="2.0" />
<text x="37.10" y="547.00" font-family='"Liberation Sans", sans-serif' font-size="12" font-weight="bold" text-anchor="end" fill="#111" stroke="#111" stroke-width="0.35" >15</text>
<line x1="40.70" y1="507.60" x2="46.70" y2="507.60" stroke="#151515" stroke-width="2.0" />
<text x="37.10" y="511.70" font-family='"Liberation Sans", sans-serif' font-size="12" font-weight="bold" text-anchor="end" fill="#111" stroke="#111" stroke-width="0.35" >20</text>
<line x1="40.70" y1="648.30" x2="214.30" y2="648.30" stroke="#151515" stroke-width="2.0" />
<line x1="72.20" y1="648.30" x2="72.20" y2="653.30" stroke="#151515" stroke-width="2.0" />
<line x1="111.00" y1="648.30" x2="111.00" y2="653.30" stroke="#151515" stroke-width="2.0" />
<line x1="149.70" y1="648.30" x2="149.70" y2="653.30" stroke="#151515" stroke-width="2.0" />
<line x1="188.30" y1="648.30" x2="188.30" y2="653.30" stroke="#151515" stroke-width="2.0" />
<line x1="110.70" y1="512.60" x2="148.10" y2="512.60" stroke="#151515" stroke-width="1.9" />
<line x1="110.70" y1="508.20" x2="110.70" y2="517.00" stroke="#151515" stroke-width="1.9" />
<line x1="148.10" y1="508.20" x2="148.10" y2="517.00" stroke="#151515" stroke-width="1.9" />
<text x="129.10" y="511.20" font-family='"Liberation Sans", sans-serif' font-size="10.8" font-weight="bold" text-anchor="middle" fill="#111" >**</text>
<line x1="153.20" y1="512.60" x2="190.30" y2="512.60" stroke="#151515" stroke-width="1.9" />
<line x1="153.20" y1="508.20" x2="153.20" y2="517.00" stroke="#151515" stroke-width="1.9" />
<line x1="190.30" y1="508.20" x2="190.30" y2="517.00" stroke="#151515" stroke-width="1.9" />
<text x="169.60" y="511.20" font-family='"Liberation Sans", sans-serif' font-size="10.8" font-weight="bold" text-anchor="middle" fill="#111" >***</text>
<text transform="translate(19.8,574.7) rotate(-90)" font-family='"Liberation Sans", sans-serif' font-size="12" font-weight="bold" text-anchor="middle" fill="#111" stroke="#111" stroke-width="0.35" textLength="175" lengthAdjust="spacingAndGlyphs">Mean flurecence indensity (x10<tspan font-size="9" dy="-4.5">4</tspan><tspan dy="4.5">)</tspan></text>
<text x="72.40" y="666.40" font-family='"Liberation Sans", sans-serif' font-size="11" font-weight="bold" text-anchor="middle" fill="#111" stroke="#111" stroke-width="0.35" >NC</text>
<text x="111.30" y="666.40" font-family='"Liberation Sans", sans-serif' font-size="11" font-weight="bold" text-anchor="middle" fill="#111" stroke="#111" stroke-width="0.35" >DMSO</text>
<text x="137.7" y="666.4" font-family='"Liberation Sans", sans-serif' font-size="11" font-weight="bold" fill="#111" stroke="#111" stroke-width="0.35">H<tspan font-size="8" dy="2.5">2</tspan><tspan dy="-2.5">O</tspan><tspan font-size="8" dy="2.5">2</tspan></text>
<text x="163.8" y="666.4" font-family='"Liberation Sans", sans-serif' font-size="11" font-weight="bold" fill="#111" stroke="#111" stroke-width="0.35">H<tspan font-size="8" dy="2.5">2</tspan><tspan dy="-2.5">O</tspan><tspan font-size="8" dy="2.5">2</tspan><tspan dy="-2.5">+Mel</tspan></text>
<line x1="275.60" y1="238.80" x2="442.40" y2="238.80" stroke="#8a8a8a" stroke-width="1.1" />
<line x1="442.40" y1="238.80" x2="442.40" y2="405.20" stroke="#555" stroke-width="1.1" />
<line x1="275.60" y1="238.30" x2="275.60" y2="405.20" stroke="#333" stroke-width="1.2" />
<line x1="275.60" y1="405.20" x2="442.40" y2="405.20" stroke="#333" stroke-width="1.2" />
<path d="M321.50,405.00 C322.17,404.62 324.10,403.43 325.50,402.70 C326.90,401.97 328.73,400.80 329.90,400.60 C331.07,400.40 331.53,401.50 332.50,401.50 C333.47,401.50 334.53,400.55 335.70,400.60 C336.87,400.65 337.83,401.52 339.50,401.80 C341.17,402.08 343.95,402.30 345.70,402.30 C347.45,402.30 348.55,402.03 350.00,401.80 C351.45,401.57 352.65,401.33 354.40,400.90 C356.15,400.47 358.30,399.83 360.50,399.20 C362.70,398.57 365.83,398.03 367.60,397.10 C369.37,396.17 369.80,395.07 371.10,393.60 C372.40,392.13 374.23,390.20 375.40,388.30 C376.57,386.40 377.13,385.12 378.10,382.20 C379.07,379.28 380.33,375.33 381.20,370.80 C382.07,366.27 382.65,359.97 383.30,355.00 C383.95,350.03 384.50,346.83 385.10,341.00 C385.70,335.17 386.43,325.12 386.90,320.00 C387.37,314.88 387.60,313.48 387.90,310.30 C388.20,307.12 388.32,304.22 388.70,300.90 C389.08,297.58 389.75,294.10 390.20,290.40 C390.65,286.70 391.00,282.90 391.40,278.70 C391.80,274.50 392.23,268.72 392.60,265.20 C392.97,261.68 393.23,259.55 393.60,257.60 C393.97,255.65 394.45,253.90 394.80,253.50 C395.15,253.10 395.25,253.83 395.70,255.20 C396.15,256.57 396.92,259.55 397.50,261.70 C398.08,263.85 398.72,265.27 399.20,268.10 C399.68,270.93 400.00,274.98 400.40,278.70 C400.80,282.42 401.15,286.70 401.60,290.40 C402.05,294.10 402.65,297.58 403.10,300.90 C403.55,304.22 403.97,307.12 404.30,310.30 C404.63,313.48 404.80,314.58 405.10,320.00 C405.40,325.42 405.63,336.08 406.10,342.80 C406.57,349.52 407.17,354.47 407.90,360.30 C408.63,366.13 409.63,372.25 410.50,377.80 C411.37,383.35 412.08,389.65 413.10,393.60 C414.12,397.55 415.00,399.60 416.60,401.50 C418.20,403.40 421.68,404.42 422.70,405.00 Z" fill="#f4d6b1" stroke="none"/>
<path d="M321.50,405.00 C322.17,404.62 324.10,403.43 325.50,402.70 C326.90,401.97 328.73,400.80 329.90,400.60 C331.07,400.40 331.53,401.50 332.50,401.50 C333.47,401.50 334.53,400.55 335.70,400.60 C336.87,400.65 337.83,401.52 339.50,401.80 C341.17,402.08 343.95,402.30 345.70,402.30 C347.45,402.30 348.55,402.03 350.00,401.80 C351.45,401.57 352.65,401.33 354.40,400.90 C356.15,400.47 358.30,399.83 360.50,399.20 C362.70,398.57 365.83,398.03 367.60,397.10 C369.37,396.17 369.80,395.07 371.10,393.60 C372.40,392.13 374.23,390.20 375.40,388.30 C376.57,386.40 377.13,385.12 378.10,382.20 C379.07,379.28 380.33,375.33 381.20,370.80 C382.07,366.27 382.65,359.97 383.30,355.00 C383.95,350.03 384.50,346.83 385.10,341.00 C385.70,335.17 386.43,325.12 386.90,320.00 C387.37,314.88 387.60,313.48 387.90,310.30 C388.20,307.12 388.32,304.22 388.70,300.90 C389.08,297.58 389.75,294.10 390.20,290.40 C390.65,286.70 391.00,282.90 391.40,278.70 C391.80,274.50 392.23,268.72 392.60,265.20 C392.97,261.68 393.23,259.55 393.60,257.60 C393.97,255.65 394.45,253.90 394.80,253.50 C395.15,253.10 395.25,253.83 395.70,255.20 C396.15,256.57 396.92,259.55 397.50,261.70 C398.08,263.85 398.72,265.27 399.20,268.10 C399.68,270.93 400.00,274.98 400.40,278.70 C400.80,282.42 401.15,286.70 401.60,290.40 C402.05,294.10 402.65,297.58 403.10,300.90 C403.55,304.22 403.97,307.12 404.30,310.30 C404.63,313.48 404.80,314.58 405.10,320.00 C405.40,325.42 405.63,336.08 406.10,342.80 C406.57,349.52 407.17,354.47 407.90,360.30 C408.63,366.13 409.63,372.25 410.50,377.80 C411.37,383.35 412.08,389.65 413.10,393.60 C414.12,397.55 415.00,399.60 416.60,401.50 C418.20,403.40 421.68,404.42 422.70,405.00" fill="none" stroke="#ee9d4c" stroke-width="1.1" stroke-linejoin="round"/>
<line x1="271.20" y1="404.30" x2="275.60" y2="404.30" stroke="#333" stroke-width="1.7" />
<text x="267.40" y="405.30" font-family='"Liberation Sans", sans-serif' font-size="8.4" fill="#2a2a2a" text-anchor="end" textLength="4.9" lengthAdjust="spacingAndGlyphs" stroke="#2a2a2a" stroke-width="0.3">0</text>
<line x1="273.00" y1="391.00" x2="275.60" y2="391.00" stroke="#333" stroke-width="1.1" />
<line x1="273.00" y1="377.70" x2="275.60" y2="377.70" stroke="#333" stroke-width="1.1" />
<line x1="273.00" y1="364.40" x2="275.60" y2="364.40" stroke="#333" stroke-width="1.1" />
<line x1="271.20" y1="351.10" x2="275.60" y2="351.10" stroke="#333" stroke-width="1.7" />
<text x="267.40" y="355.00" font-family='"Liberation Sans", sans-serif' font-size="8.4" fill="#2a2a2a" text-anchor="end" textLength="14.2" lengthAdjust="spacingAndGlyphs" stroke="#2a2a2a" stroke-width="0.3">100</text>
<line x1="273.00" y1="337.80" x2="275.60" y2="337.80" stroke="#333" stroke-width="1.1" />
<line x1="273.00" y1="324.50" x2="275.60" y2="324.50" stroke="#333" stroke-width="1.1" />
<line x1="273.00" y1="311.20" x2="275.60" y2="311.20" stroke="#333" stroke-width="1.1" />
<line x1="271.20" y1="297.90" x2="275.60" y2="297.90" stroke="#333" stroke-width="1.7" />
<text x="267.40" y="301.80" font-family='"Liberation Sans", sans-serif' font-size="8.4" fill="#2a2a2a" text-anchor="end" textLength="14.6" lengthAdjust="spacingAndGlyphs" stroke="#2a2a2a" stroke-width="0.3">200</text>
<line x1="273.00" y1="284.60" x2="275.60" y2="284.60" stroke="#333" stroke-width="1.1" />
<line x1="273.00" y1="271.30" x2="275.60" y2="271.30" stroke="#333" stroke-width="1.1" />
<line x1="273.00" y1="258.00" x2="275.60" y2="258.00" stroke="#333" stroke-width="1.1" />
<line x1="271.20" y1="244.70" x2="275.60" y2="244.70" stroke="#333" stroke-width="1.7" />
<text x="267.40" y="248.60" font-family='"Liberation Sans", sans-serif' font-size="8.4" fill="#2a2a2a" text-anchor="end" textLength="14.6" lengthAdjust="spacingAndGlyphs" stroke="#2a2a2a" stroke-width="0.3">300</text>
<line x1="275.60" y1="405.20" x2="275.60" y2="409.20" stroke="#333" stroke-width="1.6" />
<line x1="287.58" y1="405.20" x2="287.58" y2="407.50" stroke="#444" stroke-width="0.9" />
<line x1="294.59" y1="405.20" x2="294.59" y2="407.50" stroke="#444" stroke-width="0.9" />
<line x1="299.56" y1="405.20" x2="299.56" y2="407.50" stroke="#444" stroke-width="0.9" />
<line x1="303.42" y1="405.20" x2="303.42" y2="407.50" stroke="#444" stroke-width="0.9" />
<line x1="306.57" y1="405.20" x2="306.57" y2="407.50" stroke="#444" stroke-width="0.9" />
<line x1="309.23" y1="405.20" x2="309.23" y2="407.50" stroke="#444" stroke-width="0.9" />
<line x1="311.54" y1="405.20" x2="311.54" y2="407.50" stroke="#444" stroke-width="0.9" />
<line x1="313.58" y1="405.20" x2="313.58" y2="407.50" stroke="#444" stroke-width="0.9" />
<line x1="315.40" y1="405.20" x2="315.40" y2="409.20" stroke="#333" stroke-width="1.6" />
<line x1="327.38" y1="405.20" x2="327.38" y2="407.50" stroke="#444" stroke-width="0.9" />
<line x1="334.39" y1="405.20" x2="334.39" y2="407.50" stroke="#444" stroke-width="0.9" />
<line x1="339.36" y1="405.20" x2="339.36" y2="407.50" stroke="#444" stroke-width="0.9" />
<line x1="343.22" y1="405.20" x2="343.22" y2="407.50" stroke="#444" stroke-width="0.9" />
<line x1="346.37" y1="405.20" x2="346.37" y2="407.50" stroke="#444" stroke-width="0.9" />
<line x1="349.03" y1="405.20" x2="349.03" y2="407.50" stroke="#444" stroke-width="0.9" />
<line x1="351.34" y1="405.20" x2="351.34" y2="407.50" stroke="#444" stroke-width="0.9" />
<line x1="353.38" y1="405.20" x2="353.38" y2="407.50" stroke="#444" stroke-width="0.9" />
<line x1="355.20" y1="405.20" x2="355.20" y2="409.20" stroke="#333" stroke-width="1.6" />
<line x1="367.18" y1="405.20" x2="367.18" y2="407.50" stroke="#444" stroke-width="0.9" />
<line x1="374.19" y1="405.20" x2="374.19" y2="407.50" stroke="#444" stroke-width="0.9" />
<line x1="379.16" y1="405.20" x2="379.16" y2="407.50" stroke="#444" stroke-width="0.9" />
<line x1="383.02" y1="405.20" x2="383.02" y2="407.50" stroke="#444" stroke-width="0.9" />
<line x1="386.17" y1="405.20" x2="386.17" y2="407.50" stroke="#444" stroke-width="0.9" />
<line x1="388.83" y1="405.20" x2="388.83" y2="407.50" stroke="#444" stroke-width="0.9" />
<line x1="391.14" y1="405.20" x2="391.14" y2="407.50" stroke="#444" stroke-width="0.9" />
<line x1="393.18" y1="405.20" x2="393.18" y2="407.50" stroke="#444" stroke-width="0.9" />
<line x1="395.00" y1="405.20" x2="395.00" y2="409.20" stroke="#333" stroke-width="1.6" />
<line x1="406.98" y1="405.20" x2="406.98" y2="407.50" stroke="#444" stroke-width="0.9" />
<line x1="413.99" y1="405.20" x2="413.99" y2="407.50" stroke="#444" stroke-width="0.9" />
<line x1="418.96" y1="405.20" x2="418.96" y2="407.50" stroke="#444" stroke-width="0.9" />
<line x1="422.82" y1="405.20" x2="422.82" y2="407.50" stroke="#444" stroke-width="0.9" />
<line x1="425.97" y1="405.20" x2="425.97" y2="407.50" stroke="#444" stroke-width="0.9" />
<line x1="428.63" y1="405.20" x2="428.63" y2="407.50" stroke="#444" stroke-width="0.9" />
<line x1="430.94" y1="405.20" x2="430.94" y2="407.50" stroke="#444" stroke-width="0.9" />
<line x1="432.98" y1="405.20" x2="432.98" y2="407.50" stroke="#444" stroke-width="0.9" />
<line x1="434.80" y1="405.20" x2="434.80" y2="409.20" stroke="#333" stroke-width="1.6" />
<text x="279.90" y="423.00" font-family='"Liberation Sans", sans-serif' font-size="8.6" fill="#222" stroke="#222" stroke-width="0.22">10<tspan font-size="8.0" dx="0.8" dy="-5.2">2</tspan></text>
<text x="314.00" y="423.00" font-family='"Liberation Sans", sans-serif' font-size="8.6" fill="#222" stroke="#222" stroke-width="0.22">10<tspan font-size="8.0" dx="0.8" dy="-5.2">3</tspan></text>
<text x="353.30" y="423.00" font-family='"Liberation Sans", sans-serif' font-size="8.6" fill="#222" stroke="#222" stroke-width="0.22">10<tspan font-size="8.0" dx="0.8" dy="-5.2">4</tspan></text>
<text x="393.20" y="423.00" font-family='"Liberation Sans", sans-serif' font-size="8.6" fill="#222" stroke="#222" stroke-width="0.22">10<tspan font-size="8.0" dx="0.8" dy="-5.2">5</tspan></text>
<text x="427.20" y="423.00" font-family='"Liberation Sans", sans-serif' font-size="8.6" fill="#222" stroke="#222" stroke-width="0.22">10<tspan font-size="8.0" dx="0.8" dy="-5.2">6</tspan></text>
<line x1="401.60" y1="265.20" x2="441.40" y2="265.20" stroke="#bdbdbd" stroke-width="1.0" />
<line x1="387.20" y1="265.20" x2="401.60" y2="265.20" stroke="#222" stroke-width="1.7" />
<line x1="387.20" y1="261.90" x2="387.20" y2="268.50" stroke="#222" stroke-width="1.7" />
<line x1="441.40" y1="261.90" x2="441.40" y2="268.50" stroke="#222" stroke-width="1.7" />
<text x="403.40" y="269.80" font-family='"Liberation Sans", sans-serif' font-size="12.2" fill="#2a2a2a" textLength="36.5" lengthAdjust="spacingAndGlyphs">74.5%</text>
<text x="337.00" y="232.20" font-family='"Liberation Sans", sans-serif' font-size="12.2" font-weight="bold" text-anchor="start" fill="#111" stroke="#111" stroke-width="0.35" >DMSO</text>
<text transform="translate(248.30,318.70) rotate(-90)" font-family='"Liberation Sans", sans-serif' font-size="12.2" font-weight="bold" text-anchor="middle" fill="#111" stroke="#111" stroke-width="0.35" >Count</text>
<text x="312.20" y="440.40" font-family='"Liberation Sans", sans-serif' font-size="11.6" font-weight="bold" text-anchor="start" fill="#111" stroke="#111" stroke-width="0.35" textLength="90" lengthAdjust="spacingAndGlyphs">BL1–H :: FITC–H</text>
<line x1="507.80" y1="241.50" x2="674.40" y2="241.50" stroke="#8a8a8a" stroke-width="1.1" />
<line x1="674.40" y1="241.50" x2="674.40" y2="408.00" stroke="#555" stroke-width="1.1" />
<line x1="507.80" y1="241.00" x2="507.80" y2="408.00" stroke="#333" stroke-width="1.2" />
<line x1="507.80" y1="408.00" x2="674.40" y2="408.00" stroke="#333" stroke-width="1.2" />
<path d="M559.10,408.10 C559.72,407.77 561.28,406.70 562.80,406.10 C564.32,405.50 565.77,404.77 568.20,404.50 C570.63,404.23 574.65,404.35 577.40,404.50 C580.15,404.65 582.27,405.13 584.70,405.40 C587.13,405.67 589.57,406.10 592.00,406.10 C594.43,406.10 597.18,405.70 599.30,405.40 C601.42,405.10 602.88,404.90 604.70,404.30 C606.52,403.70 608.67,402.92 610.20,401.80 C611.73,400.68 612.68,398.92 613.90,397.60 C615.12,396.28 616.43,395.88 617.50,393.90 C618.57,391.92 619.53,388.90 620.30,385.70 C621.07,382.50 621.50,378.65 622.10,374.70 C622.70,370.75 623.30,367.47 623.90,362.00 C624.50,356.53 625.10,348.07 625.70,341.90 C626.30,335.73 626.90,330.80 627.50,325.00 C628.10,319.20 628.77,312.62 629.30,307.10 C629.83,301.58 630.32,297.37 630.70,291.90 C631.08,286.43 631.33,279.28 631.60,274.30 C631.87,269.32 632.00,264.62 632.30,262.00 C632.60,259.38 632.87,259.43 633.40,258.60 C633.93,257.77 634.85,257.33 635.50,257.00 C636.15,256.67 636.85,255.77 637.30,256.60 C637.75,257.43 637.88,258.08 638.20,262.00 C638.52,265.92 638.83,275.12 639.20,280.10 C639.57,285.08 640.00,287.40 640.40,291.90 C640.80,296.40 641.12,301.58 641.60,307.10 C642.08,312.62 642.90,319.82 643.30,325.00 C643.70,330.18 643.58,332.95 644.00,338.20 C644.42,343.45 645.20,350.42 645.80,356.50 C646.40,362.58 646.83,369.23 647.60,374.70 C648.37,380.17 649.33,385.03 650.40,389.30 C651.47,393.57 652.48,397.55 654.00,400.30 C655.52,403.05 657.37,404.52 659.50,405.80 C661.63,407.08 665.58,407.63 666.80,408.00 Z" fill="#a3faeb" stroke="none"/>
<path d="M559.10,408.10 C559.72,407.77 561.28,406.70 562.80,406.10 C564.32,405.50 565.77,404.77 568.20,404.50 C570.63,404.23 574.65,404.35 577.40,404.50 C580.15,404.65 582.27,405.13 584.70,405.40 C587.13,405.67 589.57,406.10 592.00,406.10 C594.43,406.10 597.18,405.70 599.30,405.40 C601.42,405.10 602.88,404.90 604.70,404.30 C606.52,403.70 608.67,402.92 610.20,401.80 C611.73,400.68 612.68,398.92 613.90,397.60 C615.12,396.28 616.43,395.88 617.50,393.90 C618.57,391.92 619.53,388.90 620.30,385.70 C621.07,382.50 621.50,378.65 622.10,374.70 C622.70,370.75 623.30,367.47 623.90,362.00 C624.50,356.53 625.10,348.07 625.70,341.90 C626.30,335.73 626.90,330.80 627.50,325.00 C628.10,319.20 628.77,312.62 629.30,307.10 C629.83,301.58 630.32,297.37 630.70,291.90 C631.08,286.43 631.33,279.28 631.60,274.30 C631.87,269.32 632.00,264.62 632.30,262.00 C632.60,259.38 632.87,259.43 633.40,258.60 C633.93,257.77 634.85,257.33 635.50,257.00 C636.15,256.67 636.85,255.77 637.30,256.60 C637.75,257.43 637.88,258.08 638.20,262.00 C638.52,265.92 638.83,275.12 639.20,280.10 C639.57,285.08 640.00,287.40 640.40,291.90 C640.80,296.40 641.12,301.58 641.60,307.10 C642.08,312.62 642.90,319.82 643.30,325.00 C643.70,330.18 643.58,332.95 644.00,338.20 C644.42,343.45 645.20,350.42 645.80,356.50 C646.40,362.58 646.83,369.23 647.60,374.70 C648.37,380.17 649.33,385.03 650.40,389.30 C651.47,393.57 652.48,397.55 654.00,400.30 C655.52,403.05 657.37,404.52 659.50,405.80 C661.63,407.08 665.58,407.63 666.80,408.00" fill="none" stroke="#5aeedc" stroke-width="1.1" stroke-linejoin="round"/>
<rect x="635.0" y="257.2" width="35.5" height="23.0" fill="#ffffff" fill-opacity="0.7"/>
<line x1="503.40" y1="407.50" x2="507.80" y2="407.50" stroke="#333" stroke-width="1.7" />
<text x="499.60" y="408.50" font-family='"Liberation Sans", sans-serif' font-size="8.4" fill="#2a2a2a" text-anchor="end" textLength="4.9" lengthAdjust="spacingAndGlyphs" stroke="#2a2a2a" stroke-width="0.3">0</text>
<line x1="505.20" y1="395.14" x2="507.80" y2="395.14" stroke="#333" stroke-width="1.1" />
<line x1="505.20" y1="382.77" x2="507.80" y2="382.77" stroke="#333" stroke-width="1.1" />
<line x1="505.20" y1="370.41" x2="507.80" y2="370.41" stroke="#333" stroke-width="1.1" />
<line x1="503.40" y1="358.05" x2="507.80" y2="358.05" stroke="#333" stroke-width="1.7" />
<text x="499.60" y="361.95" font-family='"Liberation Sans", sans-serif' font-size="8.4" fill="#2a2a2a" text-anchor="end" textLength="14.2" lengthAdjust="spacingAndGlyphs" stroke="#2a2a2a" stroke-width="0.3">100</text>
<line x1="505.20" y1="345.69" x2="507.80" y2="345.69" stroke="#333" stroke-width="1.1" />
<line x1="505.20" y1="333.32" x2="507.80" y2="333.32" stroke="#333" stroke-width="1.1" />
<line x1="505.20" y1="320.96" x2="507.80" y2="320.96" stroke="#333" stroke-width="1.1" />
<line x1="503.40" y1="308.60" x2="507.80" y2="308.60" stroke="#333" stroke-width="1.7" />
<text x="499.60" y="312.50" font-family='"Liberation Sans", sans-serif' font-size="8.4" fill="#2a2a2a" text-anchor="end" textLength="14.6" lengthAdjust="spacingAndGlyphs" stroke="#2a2a2a" stroke-width="0.3">200</text>
<line x1="505.20" y1="296.24" x2="507.80" y2="296.24" stroke="#333" stroke-width="1.1" />
<line x1="505.20" y1="283.88" x2="507.80" y2="283.88" stroke="#333" stroke-width="1.1" />
<line x1="505.20" y1="271.51" x2="507.80" y2="271.51" stroke="#333" stroke-width="1.1" />
<line x1="503.40" y1="259.15" x2="507.80" y2="259.15" stroke="#333" stroke-width="1.7" />
<text x="499.60" y="263.05" font-family='"Liberation Sans", sans-serif' font-size="8.4" fill="#2a2a2a" text-anchor="end" textLength="14.6" lengthAdjust="spacingAndGlyphs" stroke="#2a2a2a" stroke-width="0.3">300</text>
<line x1="505.20" y1="246.79" x2="507.80" y2="246.79" stroke="#333" stroke-width="1.1" />
<line x1="507.80" y1="408.00" x2="507.80" y2="412.00" stroke="#333" stroke-width="1.6" />
<line x1="519.72" y1="408.00" x2="519.72" y2="410.30" stroke="#444" stroke-width="0.9" />
<line x1="526.69" y1="408.00" x2="526.69" y2="410.30" stroke="#444" stroke-width="0.9" />
<line x1="531.64" y1="408.00" x2="531.64" y2="410.30" stroke="#444" stroke-width="0.9" />
<line x1="535.48" y1="408.00" x2="535.48" y2="410.30" stroke="#444" stroke-width="0.9" />
<line x1="538.61" y1="408.00" x2="538.61" y2="410.30" stroke="#444" stroke-width="0.9" />
<line x1="541.27" y1="408.00" x2="541.27" y2="410.30" stroke="#444" stroke-width="0.9" />
<line x1="543.56" y1="408.00" x2="543.56" y2="410.30" stroke="#444" stroke-width="0.9" />
<line x1="545.59" y1="408.00" x2="545.59" y2="410.30" stroke="#444" stroke-width="0.9" />
<line x1="547.40" y1="408.00" x2="547.40" y2="412.00" stroke="#333" stroke-width="1.6" />
<line x1="559.32" y1="408.00" x2="559.32" y2="410.30" stroke="#444" stroke-width="0.9" />
<line x1="566.29" y1="408.00" x2="566.29" y2="410.30" stroke="#444" stroke-width="0.9" />
<line x1="571.24" y1="408.00" x2="571.24" y2="410.30" stroke="#444" stroke-width="0.9" />
<line x1="575.08" y1="408.00" x2="575.08" y2="410.30" stroke="#444" stroke-width="0.9" />
<line x1="578.21" y1="408.00" x2="578.21" y2="410.30" stroke="#444" stroke-width="0.9" />
<line x1="580.87" y1="408.00" x2="580.87" y2="410.30" stroke="#444" stroke-width="0.9" />
<line x1="583.16" y1="408.00" x2="583.16" y2="410.30" stroke="#444" stroke-width="0.9" />
<line x1="585.19" y1="408.00" x2="585.19" y2="410.30" stroke="#444" stroke-width="0.9" />
<line x1="587.00" y1="408.00" x2="587.00" y2="412.00" stroke="#333" stroke-width="1.6" />
<line x1="598.92" y1="408.00" x2="598.92" y2="410.30" stroke="#444" stroke-width="0.9" />
<line x1="605.89" y1="408.00" x2="605.89" y2="410.30" stroke="#444" stroke-width="0.9" />
<line x1="610.84" y1="408.00" x2="610.84" y2="410.30" stroke="#444" stroke-width="0.9" />
<line x1="614.68" y1="408.00" x2="614.68" y2="410.30" stroke="#444" stroke-width="0.9" />
<line x1="617.81" y1="408.00" x2="617.81" y2="410.30" stroke="#444" stroke-width="0.9" />
<line x1="620.47" y1="408.00" x2="620.47" y2="410.30" stroke="#444" stroke-width="0.9" />
<line x1="622.76" y1="408.00" x2="622.76" y2="410.30" stroke="#444" stroke-width="0.9" />
<line x1="624.79" y1="408.00" x2="624.79" y2="410.30" stroke="#444" stroke-width="0.9" />
<line x1="626.70" y1="408.00" x2="626.70" y2="412.00" stroke="#333" stroke-width="1.6" />
<line x1="638.62" y1="408.00" x2="638.62" y2="410.30" stroke="#444" stroke-width="0.9" />
<line x1="645.59" y1="408.00" x2="645.59" y2="410.30" stroke="#444" stroke-width="0.9" />
<line x1="650.54" y1="408.00" x2="650.54" y2="410.30" stroke="#444" stroke-width="0.9" />
<line x1="654.38" y1="408.00" x2="654.38" y2="410.30" stroke="#444" stroke-width="0.9" />
<line x1="657.51" y1="408.00" x2="657.51" y2="410.30" stroke="#444" stroke-width="0.9" />
<line x1="660.17" y1="408.00" x2="660.17" y2="410.30" stroke="#444" stroke-width="0.9" />
<line x1="662.46" y1="408.00" x2="662.46" y2="410.30" stroke="#444" stroke-width="0.9" />
<line x1="664.49" y1="408.00" x2="664.49" y2="410.30" stroke="#444" stroke-width="0.9" />
<line x1="666.40" y1="408.00" x2="666.40" y2="412.00" stroke="#333" stroke-width="1.6" />
<text x="511.20" y="425.80" font-family='"Liberation Sans", sans-serif' font-size="8.6" fill="#222" stroke="#222" stroke-width="0.22">10<tspan font-size="8.0" dx="0.8" dy="-5.2">2</tspan></text>
<text x="546.40" y="425.80" font-family='"Liberation Sans", sans-serif' font-size="8.6" fill="#222" stroke="#222" stroke-width="0.22">10<tspan font-size="8.0" dx="0.8" dy="-5.2">3</tspan></text>
<text x="585.80" y="425.80" font-family='"Liberation Sans", sans-serif' font-size="8.6" fill="#222" stroke="#222" stroke-width="0.22">10<tspan font-size="8.0" dx="0.8" dy="-5.2">4</tspan></text>
<text x="625.50" y="425.80" font-family='"Liberation Sans", sans-serif' font-size="8.6" fill="#222" stroke="#222" stroke-width="0.22">10<tspan font-size="8.0" dx="0.8" dy="-5.2">5</tspan></text>
<text x="659.20" y="425.80" font-family='"Liberation Sans", sans-serif' font-size="8.6" fill="#222" stroke="#222" stroke-width="0.22">10<tspan font-size="8.0" dx="0.8" dy="-5.2">6</tspan></text>
<line x1="634.00" y1="268.90" x2="674.00" y2="268.90" stroke="#bdbdbd" stroke-width="1.0" />
<line x1="619.30" y1="268.90" x2="634.00" y2="268.90" stroke="#222" stroke-width="1.7" />
<line x1="619.30" y1="265.60" x2="619.30" y2="272.20" stroke="#222" stroke-width="1.7" />
<line x1="674.00" y1="265.60" x2="674.00" y2="272.20" stroke="#222" stroke-width="1.7" />
<text x="635.30" y="273.50" font-family='"Liberation Sans", sans-serif' font-size="12.2" fill="#2a2a2a" textLength="36.5" lengthAdjust="spacingAndGlyphs">90.3%</text>
<text x="571.70" y="234.80" font-family='"Liberation Sans", sans-serif' font-size="12.2" font-weight="bold" text-anchor="start" fill="#111" stroke="#111" stroke-width="0.35" >H2O2</text>
<text transform="translate(478.60,318.80) rotate(-90)" font-family='"Liberation Sans", sans-serif' font-size="12.2" font-weight="bold" text-anchor="middle" fill="#111" stroke="#111" stroke-width="0.35" >Count</text>
<text x="544.70" y="443.40" font-family='"Liberation Sans", sans-serif' font-size="11.6" font-weight="bold" text-anchor="start" fill="#111" stroke="#111" stroke-width="0.35" textLength="90" lengthAdjust="spacingAndGlyphs">BL1–H :: FITC–H</text>
<line x1="273.50" y1="479.50" x2="440.40" y2="479.50" stroke="#444" stroke-width="1.1" />
<line x1="440.40" y1="479.50" x2="440.40" y2="645.60" stroke="#555" stroke-width="1.1" />
<line x1="273.50" y1="479.00" x2="273.50" y2="645.60" stroke="#333" stroke-width="1.2" />
<line x1="273.50" y1="645.60" x2="440.40" y2="645.60" stroke="#333" stroke-width="1.2" />
<path d="M320.30,645.70 C321.02,645.35 323.00,644.30 324.60,643.60 C326.20,642.90 328.58,641.70 329.90,641.50 C331.22,641.30 331.48,642.43 332.50,642.40 C333.52,642.37 334.53,641.10 336.00,641.30 C337.47,641.50 339.25,643.13 341.30,643.60 C343.35,644.07 345.97,644.10 348.30,644.10 C350.63,644.10 352.97,643.92 355.30,643.60 C357.63,643.28 360.25,642.85 362.30,642.20 C364.35,641.55 365.85,640.58 367.60,639.70 C369.35,638.82 371.20,638.30 372.80,636.90 C374.40,635.50 375.88,633.98 377.20,631.30 C378.52,628.62 379.68,624.88 380.70,620.80 C381.72,616.72 382.57,612.35 383.30,606.80 C384.03,601.25 384.58,595.30 385.10,587.50 C385.62,579.70 385.90,567.57 386.40,560.00 C386.90,552.43 387.58,547.62 388.10,542.10 C388.62,536.58 389.10,531.40 389.50,526.90 C389.90,522.40 390.18,519.02 390.50,515.10 C390.82,511.18 391.05,506.72 391.40,503.40 C391.75,500.08 392.22,497.25 392.60,495.20 C392.98,493.15 393.32,491.10 393.70,491.10 C394.08,491.10 394.57,493.33 394.90,495.20 C395.23,497.07 395.27,500.73 395.70,502.30 C396.13,503.87 397.00,503.23 397.50,504.60 C398.00,505.97 398.32,507.18 398.70,510.50 C399.08,513.82 399.32,519.23 399.80,524.50 C400.28,529.77 400.97,536.18 401.60,542.10 C402.23,548.02 403.00,553.30 403.60,560.00 C404.20,566.70 404.48,574.20 405.20,582.30 C405.92,590.40 407.02,601.02 407.90,608.60 C408.78,616.18 409.48,622.70 410.50,627.80 C411.52,632.90 412.40,636.57 414.00,639.20 C415.60,641.83 418.07,642.52 420.10,643.60 C422.13,644.68 425.18,645.35 426.20,645.70 Z" fill="#f2b0b7" stroke="none"/>
<path d="M320.30,645.70 C321.02,645.35 323.00,644.30 324.60,643.60 C326.20,642.90 328.58,641.70 329.90,641.50 C331.22,641.30 331.48,642.43 332.50,642.40 C333.52,642.37 334.53,641.10 336.00,641.30 C337.47,641.50 339.25,643.13 341.30,643.60 C343.35,644.07 345.97,644.10 348.30,644.10 C350.63,644.10 352.97,643.92 355.30,643.60 C357.63,643.28 360.25,642.85 362.30,642.20 C364.35,641.55 365.85,640.58 367.60,639.70 C369.35,638.82 371.20,638.30 372.80,636.90 C374.40,635.50 375.88,633.98 377.20,631.30 C378.52,628.62 379.68,624.88 380.70,620.80 C381.72,616.72 382.57,612.35 383.30,606.80 C384.03,601.25 384.58,595.30 385.10,587.50 C385.62,579.70 385.90,567.57 386.40,560.00 C386.90,552.43 387.58,547.62 388.10,542.10 C388.62,536.58 389.10,531.40 389.50,526.90 C389.90,522.40 390.18,519.02 390.50,515.10 C390.82,511.18 391.05,506.72 391.40,503.40 C391.75,500.08 392.22,497.25 392.60,495.20 C392.98,493.15 393.32,491.10 393.70,491.10 C394.08,491.10 394.57,493.33 394.90,495.20 C395.23,497.07 395.27,500.73 395.70,502.30 C396.13,503.87 397.00,503.23 397.50,504.60 C398.00,505.97 398.32,507.18 398.70,510.50 C399.08,513.82 399.32,519.23 399.80,524.50 C400.28,529.77 400.97,536.18 401.60,542.10 C402.23,548.02 403.00,553.30 403.60,560.00 C404.20,566.70 404.48,574.20 405.20,582.30 C405.92,590.40 407.02,601.02 407.90,608.60 C408.78,616.18 409.48,622.70 410.50,627.80 C411.52,632.90 412.40,636.57 414.00,639.20 C415.60,641.83 418.07,642.52 420.10,643.60 C422.13,644.68 425.18,645.35 426.20,645.70" fill="none" stroke="#ec4a5a" stroke-width="1.1" stroke-linejoin="round"/>
<line x1="269.10" y1="644.90" x2="273.50" y2="644.90" stroke="#333" stroke-width="1.7" />
<text x="265.30" y="645.90" font-family='"Liberation Sans", sans-serif' font-size="8.4" fill="#2a2a2a" text-anchor="end" textLength="4.9" lengthAdjust="spacingAndGlyphs" stroke="#2a2a2a" stroke-width="0.3">0</text>
<line x1="270.90" y1="632.36" x2="273.50" y2="632.36" stroke="#333" stroke-width="1.1" />
<line x1="270.90" y1="619.82" x2="273.50" y2="619.82" stroke="#333" stroke-width="1.1" />
<line x1="270.90" y1="607.29" x2="273.50" y2="607.29" stroke="#333" stroke-width="1.1" />
<line x1="269.10" y1="594.75" x2="273.50" y2="594.75" stroke="#333" stroke-width="1.7" />
<text x="265.30" y="598.65" font-family='"Liberation Sans", sans-serif' font-size="8.4" fill="#2a2a2a" text-anchor="end" textLength="14.2" lengthAdjust="spacingAndGlyphs" stroke="#2a2a2a" stroke-width="0.3">100</text>
<line x1="270.90" y1="582.21" x2="273.50" y2="582.21" stroke="#333" stroke-width="1.1" />
<line x1="270.90" y1="569.67" x2="273.50" y2="569.67" stroke="#333" stroke-width="1.1" />
<line x1="270.90" y1="557.14" x2="273.50" y2="557.14" stroke="#333" stroke-width="1.1" />
<line x1="269.10" y1="544.60" x2="273.50" y2="544.60" stroke="#333" stroke-width="1.7" />
<text x="265.30" y="548.50" font-family='"Liberation Sans", sans-serif' font-size="8.4" fill="#2a2a2a" text-anchor="end" textLength="14.6" lengthAdjust="spacingAndGlyphs" stroke="#2a2a2a" stroke-width="0.3">200</text>
<line x1="270.90" y1="532.06" x2="273.50" y2="532.06" stroke="#333" stroke-width="1.1" />
<line x1="270.90" y1="519.52" x2="273.50" y2="519.52" stroke="#333" stroke-width="1.1" />
<line x1="270.90" y1="506.99" x2="273.50" y2="506.99" stroke="#333" stroke-width="1.1" />
<line x1="269.10" y1="494.45" x2="273.50" y2="494.45" stroke="#333" stroke-width="1.7" />
<text x="265.30" y="498.35" font-family='"Liberation Sans", sans-serif' font-size="8.4" fill="#2a2a2a" text-anchor="end" textLength="14.6" lengthAdjust="spacingAndGlyphs" stroke="#2a2a2a" stroke-width="0.3">300</text>
<line x1="270.90" y1="481.91" x2="273.50" y2="481.91" stroke="#333" stroke-width="1.1" />
<line x1="273.60" y1="645.60" x2="273.60" y2="649.60" stroke="#333" stroke-width="1.6" />
<line x1="285.49" y1="645.60" x2="285.49" y2="647.90" stroke="#444" stroke-width="0.9" />
<line x1="292.45" y1="645.60" x2="292.45" y2="647.90" stroke="#444" stroke-width="0.9" />
<line x1="297.38" y1="645.60" x2="297.38" y2="647.90" stroke="#444" stroke-width="0.9" />
<line x1="301.21" y1="645.60" x2="301.21" y2="647.90" stroke="#444" stroke-width="0.9" />
<line x1="304.34" y1="645.60" x2="304.34" y2="647.90" stroke="#444" stroke-width="0.9" />
<line x1="306.98" y1="645.60" x2="306.98" y2="647.90" stroke="#444" stroke-width="0.9" />
<line x1="309.27" y1="645.60" x2="309.27" y2="647.90" stroke="#444" stroke-width="0.9" />
<line x1="311.29" y1="645.60" x2="311.29" y2="647.90" stroke="#444" stroke-width="0.9" />
<line x1="313.10" y1="645.60" x2="313.10" y2="649.60" stroke="#333" stroke-width="1.6" />
<line x1="324.99" y1="645.60" x2="324.99" y2="647.90" stroke="#444" stroke-width="0.9" />
<line x1="331.95" y1="645.60" x2="331.95" y2="647.90" stroke="#444" stroke-width="0.9" />
<line x1="336.88" y1="645.60" x2="336.88" y2="647.90" stroke="#444" stroke-width="0.9" />
<line x1="340.71" y1="645.60" x2="340.71" y2="647.90" stroke="#444" stroke-width="0.9" />
<line x1="343.84" y1="645.60" x2="343.84" y2="647.90" stroke="#444" stroke-width="0.9" />
<line x1="346.48" y1="645.60" x2="346.48" y2="647.90" stroke="#444" stroke-width="0.9" />
<line x1="348.77" y1="645.60" x2="348.77" y2="647.90" stroke="#444" stroke-width="0.9" />
<line x1="350.79" y1="645.60" x2="350.79" y2="647.90" stroke="#444" stroke-width="0.9" />
<line x1="352.60" y1="645.60" x2="352.60" y2="649.60" stroke="#333" stroke-width="1.6" />
<line x1="364.49" y1="645.60" x2="364.49" y2="647.90" stroke="#444" stroke-width="0.9" />
<line x1="371.45" y1="645.60" x2="371.45" y2="647.90" stroke="#444" stroke-width="0.9" />
<line x1="376.38" y1="645.60" x2="376.38" y2="647.90" stroke="#444" stroke-width="0.9" />
<line x1="380.21" y1="645.60" x2="380.21" y2="647.90" stroke="#444" stroke-width="0.9" />
<line x1="383.34" y1="645.60" x2="383.34" y2="647.90" stroke="#444" stroke-width="0.9" />
<line x1="385.98" y1="645.60" x2="385.98" y2="647.90" stroke="#444" stroke-width="0.9" />
<line x1="388.27" y1="645.60" x2="388.27" y2="647.90" stroke="#444" stroke-width="0.9" />
<line x1="390.29" y1="645.60" x2="390.29" y2="647.90" stroke="#444" stroke-width="0.9" />
<line x1="392.20" y1="645.60" x2="392.20" y2="649.60" stroke="#333" stroke-width="1.6" />
<line x1="404.09" y1="645.60" x2="404.09" y2="647.90" stroke="#444" stroke-width="0.9" />
<line x1="411.05" y1="645.60" x2="411.05" y2="647.90" stroke="#444" stroke-width="0.9" />
<line x1="415.98" y1="645.60" x2="415.98" y2="647.90" stroke="#444" stroke-width="0.9" />
<line x1="419.81" y1="645.60" x2="419.81" y2="647.90" stroke="#444" stroke-width="0.9" />
<line x1="422.94" y1="645.60" x2="422.94" y2="647.90" stroke="#444" stroke-width="0.9" />
<line x1="425.58" y1="645.60" x2="425.58" y2="647.90" stroke="#444" stroke-width="0.9" />
<line x1="427.87" y1="645.60" x2="427.87" y2="647.90" stroke="#444" stroke-width="0.9" />
<line x1="429.89" y1="645.60" x2="429.89" y2="647.90" stroke="#444" stroke-width="0.9" />
<line x1="431.90" y1="645.60" x2="431.90" y2="649.60" stroke="#333" stroke-width="1.6" />
<text x="277.10" y="663.40" font-family='"Liberation Sans", sans-serif' font-size="8.6" fill="#222" stroke="#222" stroke-width="0.22">10<tspan font-size="8.0" dx="0.8" dy="-5.2">2</tspan></text>
<text x="311.80" y="663.40" font-family='"Liberation Sans", sans-serif' font-size="8.6" fill="#222" stroke="#222" stroke-width="0.22">10<tspan font-size="8.0" dx="0.8" dy="-5.2">3</tspan></text>
<text x="351.10" y="663.40" font-family='"Liberation Sans", sans-serif' font-size="8.6" fill="#222" stroke="#222" stroke-width="0.22">10<tspan font-size="8.0" dx="0.8" dy="-5.2">4</tspan></text>
<text x="391.20" y="663.40" font-family='"Liberation Sans", sans-serif' font-size="8.6" fill="#222" stroke="#222" stroke-width="0.22">10<tspan font-size="8.0" dx="0.8" dy="-5.2">5</tspan></text>
<text x="425.30" y="663.40" font-family='"Liberation Sans", sans-serif' font-size="8.6" fill="#222" stroke="#222" stroke-width="0.22">10<tspan font-size="8.0" dx="0.8" dy="-5.2">6</tspan></text>
<line x1="399.20" y1="506.70" x2="440.00" y2="506.70" stroke="#bdbdbd" stroke-width="1.0" />
<line x1="384.80" y1="506.70" x2="399.20" y2="506.70" stroke="#222" stroke-width="1.7" />
<line x1="384.80" y1="503.40" x2="384.80" y2="510.00" stroke="#222" stroke-width="1.7" />
<line x1="440.00" y1="503.40" x2="440.00" y2="510.00" stroke="#222" stroke-width="1.7" />
<text x="401.00" y="511.30" font-family='"Liberation Sans", sans-serif' font-size="12.2" fill="#2a2a2a" textLength="36.5" lengthAdjust="spacingAndGlyphs">82.3%</text>
<text x="323.00" y="475.00" font-family='"Liberation Sans", sans-serif' font-size="12.2" font-weight="bold" text-anchor="start" fill="#111" stroke="#111" stroke-width="0.35" >H2O2+ Mel</text>
<text transform="translate(248.30,569.60) rotate(-90)" font-family='"Liberation Sans", sans-serif' font-size="12.2" font-weight="bold" text-anchor="middle" fill="#111" stroke="#111" stroke-width="0.35" >Count</text>
<text x="310.20" y="681.40" font-family='"Liberation Sans", sans-serif' font-size="11.6" font-weight="bold" text-anchor="start" fill="#111" stroke="#111" stroke-width="0.35" textLength="90" lengthAdjust="spacingAndGlyphs">BL1–H :: FITC–H</text>
<path d="M506.00,521.70 C508.37,521.68 516.47,521.80 520.20,521.60 C523.93,521.40 526.27,520.95 528.40,520.50 C530.53,520.05 531.65,519.55 533.00,518.90 C534.35,518.25 535.33,517.67 536.50,516.60 C537.67,515.53 538.83,513.67 540.00,512.50 C541.17,511.33 542.13,510.57 543.50,509.60 C544.87,508.63 546.83,506.95 548.20,506.70 C549.57,506.45 550.53,507.32 551.70,508.10 C552.87,508.88 554.03,510.18 555.20,511.40 C556.37,512.62 557.53,514.15 558.70,515.40 C559.87,516.65 561.03,518.12 562.20,518.90 C563.37,519.68 564.33,519.70 565.70,520.10 C567.07,520.50 567.87,521.03 570.40,521.30 C572.93,521.57 563.97,521.63 580.90,521.70 C597.83,521.77 656.82,521.70 672.00,521.70 Z" fill="#c6f6b4" stroke="none"/>
<path d="M506.00,521.70 C508.37,521.68 516.47,521.80 520.20,521.60 C523.93,521.40 526.27,520.95 528.40,520.50 C530.53,520.05 531.65,519.55 533.00,518.90 C534.35,518.25 535.33,517.67 536.50,516.60 C537.67,515.53 538.83,513.67 540.00,512.50 C541.17,511.33 542.13,510.57 543.50,509.60 C544.87,508.63 546.83,506.95 548.20,506.70 C549.57,506.45 550.53,507.32 551.70,508.10 C552.87,508.88 554.03,510.18 555.20,511.40 C556.37,512.62 557.53,514.15 558.70,515.40 C559.87,516.65 561.03,518.12 562.20,518.90 C563.37,519.68 564.33,519.70 565.70,520.10 C567.07,520.50 567.87,521.03 570.40,521.30 C572.93,521.57 563.97,521.63 580.90,521.70 C597.83,521.77 656.82,521.70 672.00,521.70" fill="none" stroke="#c2f2ae" stroke-width="1.4" stroke-linejoin="round"/>
<path d="M520.20,521.60 C521.57,521.42 526.27,520.95 528.40,520.50 C530.53,520.05 531.65,519.55 533.00,518.90 C534.35,518.25 535.33,517.67 536.50,516.60 C537.67,515.53 538.83,513.67 540.00,512.50 C541.17,511.33 542.13,510.57 543.50,509.60 C544.87,508.63 546.83,506.95 548.20,506.70 C549.57,506.45 550.53,507.32 551.70,508.10 C552.87,508.88 554.03,510.18 555.20,511.40 C556.37,512.62 557.53,514.15 558.70,515.40 C559.87,516.65 561.03,518.12 562.20,518.90 C563.37,519.68 564.33,519.70 565.70,520.10 C567.07,520.50 569.62,521.10 570.40,521.30" fill="none" stroke="#90ea72" stroke-width="1.2" stroke-linejoin="round"/>
<path d="M506.00,563.30 C515.00,563.23 546.00,563.07 560.00,562.90 C574.00,562.73 583.45,562.60 590.00,562.30 C596.55,562.00 596.57,561.73 599.30,561.10 C602.03,560.47 604.35,559.60 606.40,558.50 C608.45,557.40 610.15,556.25 611.60,554.50 C613.05,552.75 614.03,550.25 615.10,548.00 C616.17,545.75 617.03,543.13 618.00,541.00 C618.97,538.87 619.77,537.38 620.90,535.20 C622.03,533.02 623.72,528.88 624.80,527.90 C625.88,526.92 626.48,528.57 627.40,529.30 C628.32,530.03 629.53,530.73 630.30,532.30 C631.07,533.87 631.32,537.05 632.00,538.70 C632.68,540.35 633.52,539.87 634.40,542.20 C635.28,544.53 636.13,549.88 637.30,552.70 C638.47,555.52 639.93,557.55 641.40,559.10 C642.87,560.65 643.97,561.32 646.10,562.00 C648.23,562.68 649.88,562.98 654.20,563.20 C658.52,563.42 669.03,563.28 672.00,563.30 Z" fill="#f2d3ad" stroke="none"/>
<path d="M506.00,563.30 C515.00,563.23 546.00,563.07 560.00,562.90 C574.00,562.73 583.45,562.60 590.00,562.30 C596.55,562.00 596.57,561.73 599.30,561.10 C602.03,560.47 604.35,559.60 606.40,558.50 C608.45,557.40 610.15,556.25 611.60,554.50 C613.05,552.75 614.03,550.25 615.10,548.00 C616.17,545.75 617.03,543.13 618.00,541.00 C618.97,538.87 619.77,537.38 620.90,535.20 C622.03,533.02 623.72,528.88 624.80,527.90 C625.88,526.92 626.48,528.57 627.40,529.30 C628.32,530.03 629.53,530.73 630.30,532.30 C631.07,533.87 631.32,537.05 632.00,538.70 C632.68,540.35 633.52,539.87 634.40,542.20 C635.28,544.53 636.13,549.88 637.30,552.70 C638.47,555.52 639.93,557.55 641.40,559.10 C642.87,560.65 643.97,561.32 646.10,562.00 C648.23,562.68 649.88,562.98 654.20,563.20 C658.52,563.42 669.03,563.28 672.00,563.30" fill="none" stroke="#f1c898" stroke-width="1.4" stroke-linejoin="round"/>
<path d="M590.00,562.30 C591.55,562.10 596.57,561.73 599.30,561.10 C602.03,560.47 604.35,559.60 606.40,558.50 C608.45,557.40 610.15,556.25 611.60,554.50 C613.05,552.75 614.03,550.25 615.10,548.00 C616.17,545.75 617.03,543.13 618.00,541.00 C618.97,538.87 619.77,537.38 620.90,535.20 C622.03,533.02 623.72,528.88 624.80,527.90 C625.88,526.92 626.48,528.57 627.40,529.30 C628.32,530.03 629.53,530.73 630.30,532.30 C631.07,533.87 631.32,537.05 632.00,538.70 C632.68,540.35 633.52,539.87 634.40,542.20 C635.28,544.53 636.13,549.88 637.30,552.70 C638.47,555.52 639.93,557.55 641.40,559.10 C642.87,560.65 645.32,561.52 646.10,562.00" fill="none" stroke="#ec9a4a" stroke-width="1.1" stroke-linejoin="round"/>
<path d="M506.00,605.20 C515.00,605.13 546.00,604.93 560.00,604.80 C574.00,604.67 582.67,604.63 590.00,604.40 C597.33,604.17 600.10,603.88 604.00,603.40 C607.90,602.92 611.07,602.40 613.40,601.50 C615.73,600.60 616.55,599.67 618.00,598.00 C619.45,596.33 620.93,593.75 622.10,591.50 C623.27,589.25 624.02,587.02 625.00,584.50 C625.98,581.98 627.12,579.12 628.00,576.40 C628.88,573.68 629.63,569.80 630.30,568.20 C630.97,566.60 631.22,567.00 632.00,566.80 C632.78,566.60 634.22,566.00 635.00,567.00 C635.78,568.00 636.12,571.33 636.70,572.80 C637.28,574.27 637.72,573.65 638.50,575.80 C639.28,577.95 640.33,582.50 641.40,585.70 C642.47,588.90 643.53,592.37 644.90,595.00 C646.27,597.63 647.65,599.98 649.60,601.50 C651.55,603.02 652.87,603.48 656.60,604.10 C660.33,604.72 669.43,605.02 672.00,605.20 Z" fill="#aaf4fa" stroke="none"/>
<path d="M506.00,605.20 C515.00,605.13 546.00,604.93 560.00,604.80 C574.00,604.67 582.67,604.63 590.00,604.40 C597.33,604.17 600.10,603.88 604.00,603.40 C607.90,602.92 611.07,602.40 613.40,601.50 C615.73,600.60 616.55,599.67 618.00,598.00 C619.45,596.33 620.93,593.75 622.10,591.50 C623.27,589.25 624.02,587.02 625.00,584.50 C625.98,581.98 627.12,579.12 628.00,576.40 C628.88,573.68 629.63,569.80 630.30,568.20 C630.97,566.60 631.22,567.00 632.00,566.80 C632.78,566.60 634.22,566.00 635.00,567.00 C635.78,568.00 636.12,571.33 636.70,572.80 C637.28,574.27 637.72,573.65 638.50,575.80 C639.28,577.95 640.33,582.50 641.40,585.70 C642.47,588.90 643.53,592.37 644.90,595.00 C646.27,597.63 647.65,599.98 649.60,601.50 C651.55,603.02 652.87,603.48 656.60,604.10 C660.33,604.72 669.43,605.02 672.00,605.20" fill="none" stroke="#a4ecf6" stroke-width="1.4" stroke-linejoin="round"/>
<path d="M590.00,604.40 C592.33,604.23 600.10,603.88 604.00,603.40 C607.90,602.92 611.07,602.40 613.40,601.50 C615.73,600.60 616.55,599.67 618.00,598.00 C619.45,596.33 620.93,593.75 622.10,591.50 C623.27,589.25 624.02,587.02 625.00,584.50 C625.98,581.98 627.12,579.12 628.00,576.40 C628.88,573.68 629.63,569.80 630.30,568.20 C630.97,566.60 631.22,567.00 632.00,566.80 C632.78,566.60 634.22,566.00 635.00,567.00 C635.78,568.00 636.12,571.33 636.70,572.80 C637.28,574.27 637.72,573.65 638.50,575.80 C639.28,577.95 640.33,582.50 641.40,585.70 C642.47,588.90 643.53,592.37 644.90,595.00 C646.27,597.63 647.65,599.98 649.60,601.50 C651.55,603.02 655.43,603.67 656.60,604.10" fill="none" stroke="#58dcf2" stroke-width="1.2" stroke-linejoin="round"/>
<path d="M551.00,646.50 C552.50,646.35 556.00,645.70 560.00,645.60 C564.00,645.50 570.00,645.83 575.00,645.90 C580.00,645.97 585.17,646.22 590.00,646.00 C594.83,645.78 600.50,645.35 604.00,644.60 C607.50,643.85 609.15,642.90 611.00,641.50 C612.85,640.10 613.93,638.63 615.10,636.20 C616.27,633.77 616.93,629.62 618.00,626.90 C619.07,624.18 620.52,622.43 621.50,619.90 C622.48,617.37 623.12,613.70 623.90,611.70 C624.68,609.70 625.43,608.00 626.20,607.90 C626.97,607.80 627.77,610.37 628.50,611.10 C629.23,611.83 629.92,611.42 630.60,612.30 C631.28,613.18 631.87,614.55 632.60,616.40 C633.33,618.25 634.12,620.68 635.00,623.40 C635.88,626.12 636.83,629.78 637.90,632.70 C638.97,635.62 640.03,638.85 641.40,640.90 C642.77,642.95 644.15,644.07 646.10,645.00 C648.05,645.93 648.78,646.23 653.10,646.50 C657.42,646.77 668.85,646.58 672.00,646.60 Z" fill="#f2aab2" stroke="none"/>
<path d="M551.00,646.50 C552.50,646.35 556.00,645.70 560.00,645.60 C564.00,645.50 570.00,645.83 575.00,645.90 C580.00,645.97 585.17,646.22 590.00,646.00 C594.83,645.78 600.50,645.35 604.00,644.60 C607.50,643.85 609.15,642.90 611.00,641.50 C612.85,640.10 613.93,638.63 615.10,636.20 C616.27,633.77 616.93,629.62 618.00,626.90 C619.07,624.18 620.52,622.43 621.50,619.90 C622.48,617.37 623.12,613.70 623.90,611.70 C624.68,609.70 625.43,608.00 626.20,607.90 C626.97,607.80 627.77,610.37 628.50,611.10 C629.23,611.83 629.92,611.42 630.60,612.30 C631.28,613.18 631.87,614.55 632.60,616.40 C633.33,618.25 634.12,620.68 635.00,623.40 C635.88,626.12 636.83,629.78 637.90,632.70 C638.97,635.62 640.03,638.85 641.40,640.90 C642.77,642.95 644.15,644.07 646.10,645.00 C648.05,645.93 648.78,646.23 653.10,646.50 C657.42,646.77 668.85,646.58 672.00,646.60" fill="none" stroke="#f0a0a8" stroke-width="1.4" stroke-linejoin="round"/>
<path d="M590.00,646.00 C592.33,645.77 600.50,645.35 604.00,644.60 C607.50,643.85 609.15,642.90 611.00,641.50 C612.85,640.10 613.93,638.63 615.10,636.20 C616.27,633.77 616.93,629.62 618.00,626.90 C619.07,624.18 620.52,622.43 621.50,619.90 C622.48,617.37 623.12,613.70 623.90,611.70 C624.68,609.70 625.43,608.00 626.20,607.90 C626.97,607.80 627.77,610.37 628.50,611.10 C629.23,611.83 629.92,611.42 630.60,612.30 C631.28,613.18 631.87,614.55 632.60,616.40 C633.33,618.25 634.12,620.68 635.00,623.40 C635.88,626.12 636.83,629.78 637.90,632.70 C638.97,635.62 640.03,638.85 641.40,640.90 C642.77,642.95 645.32,644.32 646.10,645.00" fill="none" stroke="#ec4656" stroke-width="1.1" stroke-linejoin="round"/>
<line x1="505.60" y1="480.50" x2="672.40" y2="480.50" stroke="#555" stroke-width="1.1" />
<line x1="672.40" y1="480.50" x2="672.40" y2="646.60" stroke="#555" stroke-width="1.1" />
<line x1="505.60" y1="480.00" x2="505.60" y2="646.60" stroke="#555" stroke-width="1.2" />
<line x1="505.60" y1="646.60" x2="672.40" y2="646.60" stroke="#777" stroke-width="1.2" />
<line x1="506.00" y1="646.60" x2="506.00" y2="650.50" stroke="#333" stroke-width="1.6" />
<line x1="517.92" y1="646.60" x2="517.92" y2="648.90" stroke="#444" stroke-width="0.9" />
<line x1="524.89" y1="646.60" x2="524.89" y2="648.90" stroke="#444" stroke-width="0.9" />
<line x1="529.84" y1="646.60" x2="529.84" y2="648.90" stroke="#444" stroke-width="0.9" />
<line x1="533.68" y1="646.60" x2="533.68" y2="648.90" stroke="#444" stroke-width="0.9" />
<line x1="536.81" y1="646.60" x2="536.81" y2="648.90" stroke="#444" stroke-width="0.9" />
<line x1="539.47" y1="646.60" x2="539.47" y2="648.90" stroke="#444" stroke-width="0.9" />
<line x1="541.76" y1="646.60" x2="541.76" y2="648.90" stroke="#444" stroke-width="0.9" />
<line x1="543.79" y1="646.60" x2="543.79" y2="648.90" stroke="#444" stroke-width="0.9" />
<line x1="545.60" y1="646.60" x2="545.60" y2="650.50" stroke="#333" stroke-width="1.6" />
<line x1="557.52" y1="646.60" x2="557.52" y2="648.90" stroke="#444" stroke-width="0.9" />
<line x1="564.49" y1="646.60" x2="564.49" y2="648.90" stroke="#444" stroke-width="0.9" />
<line x1="569.44" y1="646.60" x2="569.44" y2="648.90" stroke="#444" stroke-width="0.9" />
<line x1="573.28" y1="646.60" x2="573.28" y2="648.90" stroke="#444" stroke-width="0.9" />
<line x1="576.41" y1="646.60" x2="576.41" y2="648.90" stroke="#444" stroke-width="0.9" />
<line x1="579.07" y1="646.60" x2="579.07" y2="648.90" stroke="#444" stroke-width="0.9" />
<line x1="581.36" y1="646.60" x2="581.36" y2="648.90" stroke="#444" stroke-width="0.9" />
<line x1="583.39" y1="646.60" x2="583.39" y2="648.90" stroke="#444" stroke-width="0.9" />
<line x1="585.00" y1="646.60" x2="585.00" y2="650.50" stroke="#333" stroke-width="1.6" />
<line x1="596.92" y1="646.60" x2="596.92" y2="648.90" stroke="#444" stroke-width="0.9" />
<line x1="603.89" y1="646.60" x2="603.89" y2="648.90" stroke="#444" stroke-width="0.9" />
<line x1="608.84" y1="646.60" x2="608.84" y2="648.90" stroke="#444" stroke-width="0.9" />
<line x1="612.68" y1="646.60" x2="612.68" y2="648.90" stroke="#444" stroke-width="0.9" />
<line x1="615.81" y1="646.60" x2="615.81" y2="648.90" stroke="#444" stroke-width="0.9" />
<line x1="618.47" y1="646.60" x2="618.47" y2="648.90" stroke="#444" stroke-width="0.9" />
<line x1="620.76" y1="646.60" x2="620.76" y2="648.90" stroke="#444" stroke-width="0.9" />
<line x1="622.79" y1="646.60" x2="622.79" y2="648.90" stroke="#444" stroke-width="0.9" />
<line x1="624.60" y1="646.60" x2="624.60" y2="650.50" stroke="#333" stroke-width="1.6" />
<line x1="636.52" y1="646.60" x2="636.52" y2="648.90" stroke="#444" stroke-width="0.9" />
<line x1="643.49" y1="646.60" x2="643.49" y2="648.90" stroke="#444" stroke-width="0.9" />
<line x1="648.44" y1="646.60" x2="648.44" y2="648.90" stroke="#444" stroke-width="0.9" />
<line x1="652.28" y1="646.60" x2="652.28" y2="648.90" stroke="#444" stroke-width="0.9" />
<line x1="655.41" y1="646.60" x2="655.41" y2="648.90" stroke="#444" stroke-width="0.9" />
<line x1="658.07" y1="646.60" x2="658.07" y2="648.90" stroke="#444" stroke-width="0.9" />
<line x1="660.36" y1="646.60" x2="660.36" y2="648.90" stroke="#444" stroke-width="0.9" />
<line x1="662.39" y1="646.60" x2="662.39" y2="648.90" stroke="#444" stroke-width="0.9" />
<line x1="664.30" y1="646.60" x2="664.30" y2="650.50" stroke="#333" stroke-width="1.6" />
<text x="509.00" y="661.20" font-family='"Liberation Sans", sans-serif' font-size="6.8" fill="#222" stroke="#222" stroke-width="0.22">10<tspan font-size="6.3" dx="0.8" dy="-3.8">2</tspan></text>
<text x="545.00" y="661.20" font-family='"Liberation Sans", sans-serif' font-size="6.8" fill="#222" stroke="#222" stroke-width="0.22">10<tspan font-size="6.3" dx="0.8" dy="-3.8">3</tspan></text>
<text x="584.40" y="661.20" font-family='"Liberation Sans", sans-serif' font-size="6.8" fill="#222" stroke="#222" stroke-width="0.22">10<tspan font-size="6.3" dx="0.8" dy="-3.8">4</tspan></text>
<text x="624.00" y="661.20" font-family='"Liberation Sans", sans-serif' font-size="6.8" fill="#222" stroke="#222" stroke-width="0.22">10<tspan font-size="6.3" dx="0.8" dy="-3.8">5</tspan></text>
<text x="660.30" y="661.20" font-family='"Liberation Sans", sans-serif' font-size="6.8" fill="#222" stroke="#222" stroke-width="0.22">10<tspan font-size="6.3" dx="0.8" dy="-3.8">6</tspan></text>
<text x="508.20" y="492.00" font-family='"Liberation Sans", sans-serif' font-size="12.2" font-weight="bold" text-anchor="start" fill="#111" stroke="#111" stroke-width="0.35" textLength="96" lengthAdjust="spacingAndGlyphs">Negative control</text>
<text x="508.80" y="534.60" font-family='"Liberation Sans", sans-serif' font-size="12.2" font-weight="bold" text-anchor="start" fill="#111" stroke="#111" stroke-width="0.35" >DMSO</text>
<text x="508.80" y="578.30" font-family='"Liberation Sans", sans-serif' font-size="12.2" font-weight="bold" text-anchor="start" fill="#111" stroke="#111" stroke-width="0.35" >H2O2</text>
<text x="509.60" y="622.20" font-family='"Liberation Sans", sans-serif' font-size="12.2" font-weight="bold" text-anchor="start" fill="#111" stroke="#111" stroke-width="0.35" >H2O2+ Mel</text>
<text x="542.80" y="681.60" font-family='"Liberation Sans", sans-serif' font-size="11.6" font-weight="bold" text-anchor="start" fill="#111" stroke="#111" stroke-width="0.35" textLength="90" lengthAdjust="spacingAndGlyphs">BL1–H :: FITC–H</text>
</svg></body></html>
